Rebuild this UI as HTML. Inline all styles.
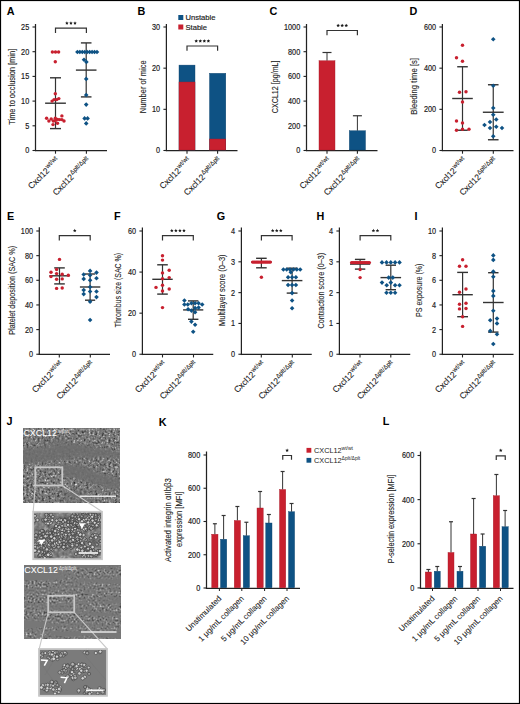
<!DOCTYPE html><html><head><meta charset="utf-8"><style>html,body{margin:0;padding:0;background:#fff;}svg{display:block;font-family:"Liberation Sans", sans-serif;}</style></head><body>
<svg width="520" height="704" viewBox="0 0 520 704">
<defs>
<filter id="t1" x="0" y="0" width="1" height="1" color-interpolation-filters="sRGB"><feTurbulence type="fractalNoise" baseFrequency="0.45" numOctaves="2" seed="3" result="n"/><feColorMatrix in="n" type="matrix" values="1 0 0 0 0  1 0 0 0 0  1 0 0 0 0  0 0 0 0 1" result="g"/><feComponentTransfer in="g" result="s"><feFuncR type="table" tableValues="0.12 0.16 0.22 0.32 0.43 0.47 0.53 0.63 0.8 0.92 0.95"/><feFuncG type="table" tableValues="0.12 0.16 0.22 0.32 0.43 0.47 0.53 0.63 0.8 0.92 0.95"/><feFuncB type="table" tableValues="0.12 0.16 0.22 0.32 0.43 0.47 0.53 0.63 0.8 0.92 0.95"/></feComponentTransfer><feTurbulence type="fractalNoise" baseFrequency="0.02 0.04" numOctaves="2" seed="11" result="m"/><feColorMatrix in="m" type="matrix" values="0 0 0 0 0  0 0 0 0 0  0 0 0 0 0  3.0 0 0 0 -0.5" result="ma"/><feComposite in="s" in2="ma" operator="in" result="sm"/><feFlood flood-color="#6c6c6c" result="b"/><feMerge><feMergeNode in="b"/><feMergeNode in="sm"/></feMerge><feGaussianBlur stdDeviation="0.4"/></filter>
<filter id="t1i" x="0" y="0" width="1" height="1" color-interpolation-filters="sRGB"><feTurbulence type="fractalNoise" baseFrequency="0.25" numOctaves="2" seed="5" result="n"/><feColorMatrix in="n" type="matrix" values="1 0 0 0 0  1 0 0 0 0  1 0 0 0 0  0 0 0 0 1" result="g"/><feComponentTransfer in="g" result="s"><feFuncR type="table" tableValues="0.28 0.32 0.37 0.42 0.46 0.49 0.53 0.6 0.7 0.8 0.85"/><feFuncG type="table" tableValues="0.28 0.32 0.37 0.42 0.46 0.49 0.53 0.6 0.7 0.8 0.85"/><feFuncB type="table" tableValues="0.28 0.32 0.37 0.42 0.46 0.49 0.53 0.6 0.7 0.8 0.85"/></feComponentTransfer><feTurbulence type="fractalNoise" baseFrequency="0.05 0.08" numOctaves="2" seed="12" result="m"/><feColorMatrix in="m" type="matrix" values="0 0 0 0 0  0 0 0 0 0  0 0 0 0 0  3.0 0 0 0 0.5" result="ma"/><feComposite in="s" in2="ma" operator="in" result="sm"/><feFlood flood-color="#777777" result="b"/><feMerge><feMergeNode in="b"/><feMergeNode in="sm"/></feMerge><feGaussianBlur stdDeviation="0.5"/></filter>
<filter id="t2" x="0" y="0" width="1" height="1" color-interpolation-filters="sRGB"><feTurbulence type="fractalNoise" baseFrequency="0.5" numOctaves="2" seed="7" result="n"/><feColorMatrix in="n" type="matrix" values="1 0 0 0 0  1 0 0 0 0  1 0 0 0 0  0 0 0 0 1" result="g"/><feComponentTransfer in="g" result="s"><feFuncR type="table" tableValues="0.15 0.2 0.26 0.34 0.44 0.48 0.53 0.64 0.82 0.95 1"/><feFuncG type="table" tableValues="0.15 0.2 0.26 0.34 0.44 0.48 0.53 0.64 0.82 0.95 1"/><feFuncB type="table" tableValues="0.15 0.2 0.26 0.34 0.44 0.48 0.53 0.64 0.82 0.95 1"/></feComponentTransfer><feTurbulence type="fractalNoise" baseFrequency="0.012 0.13" numOctaves="2" seed="21" result="m"/><feColorMatrix in="m" type="matrix" values="0 0 0 0 0  0 0 0 0 0  0 0 0 0 0  4.0 0 0 0 -1.4" result="ma"/><feComposite in="s" in2="ma" operator="in" result="sm"/><feFlood flood-color="#777777" result="b"/><feMerge><feMergeNode in="b"/><feMergeNode in="sm"/></feMerge><feGaussianBlur stdDeviation="0.45"/></filter>
<filter id="t2i" x="0" y="0" width="1" height="1" color-interpolation-filters="sRGB"><feTurbulence type="fractalNoise" baseFrequency="0.3" numOctaves="2" seed="9" result="n"/><feColorMatrix in="n" type="matrix" values="1 0 0 0 0  1 0 0 0 0  1 0 0 0 0  0 0 0 0 1" result="g"/><feComponentTransfer in="g" result="s"><feFuncR type="table" tableValues="0.12 0.16 0.22 0.32 0.44 0.5 0.58 0.74 0.92 1 1"/><feFuncG type="table" tableValues="0.12 0.16 0.22 0.32 0.44 0.5 0.58 0.74 0.92 1 1"/><feFuncB type="table" tableValues="0.12 0.16 0.22 0.32 0.44 0.5 0.58 0.74 0.92 1 1"/></feComponentTransfer><feTurbulence type="fractalNoise" baseFrequency="0.045 0.06" numOctaves="2" seed="23" result="m"/><feColorMatrix in="m" type="matrix" values="0 0 0 0 0  0 0 0 0 0  0 0 0 0 0  5.0 0 0 0 -2.0" result="ma"/><feComposite in="s" in2="ma" operator="in" result="sm"/><feFlood flood-color="#7a7a7a" result="b"/><feMerge><feMergeNode in="b"/><feMergeNode in="sm"/></feMerge><feGaussianBlur stdDeviation="0.4"/></filter>
</defs>
<rect x="0" y="0" width="520" height="704" fill="#fff"/>
<text x="6.70" y="14.80" font-size="10.8" text-anchor="start" font-weight="bold" fill="#000" >A</text>
<line x1="35.50" y1="24.00" x2="35.50" y2="151.10" stroke="#222" stroke-width="1.25"/>
<line x1="34.90" y1="150.50" x2="107.00" y2="150.50" stroke="#222" stroke-width="1.25"/>
<line x1="32.50" y1="27.00" x2="35.50" y2="27.00" stroke="#222" stroke-width="1.1"/>
<text transform="translate(29.20,29.95) scale(0.86,1)" font-size="8.5" text-anchor="end" fill="#1c1c1c" stroke="#1c1c1c" stroke-width="0.18">25</text>
<line x1="32.50" y1="51.70" x2="35.50" y2="51.70" stroke="#222" stroke-width="1.1"/>
<text transform="translate(29.20,54.65) scale(0.86,1)" font-size="8.5" text-anchor="end" fill="#1c1c1c" stroke="#1c1c1c" stroke-width="0.18">20</text>
<line x1="32.50" y1="76.40" x2="35.50" y2="76.40" stroke="#222" stroke-width="1.1"/>
<text transform="translate(29.20,79.35) scale(0.86,1)" font-size="8.5" text-anchor="end" fill="#1c1c1c" stroke="#1c1c1c" stroke-width="0.18">15</text>
<line x1="32.50" y1="101.10" x2="35.50" y2="101.10" stroke="#222" stroke-width="1.1"/>
<text transform="translate(29.20,104.05) scale(0.86,1)" font-size="8.5" text-anchor="end" fill="#1c1c1c" stroke="#1c1c1c" stroke-width="0.18">10</text>
<line x1="32.50" y1="125.80" x2="35.50" y2="125.80" stroke="#222" stroke-width="1.1"/>
<text transform="translate(29.20,128.75) scale(0.86,1)" font-size="8.5" text-anchor="end" fill="#1c1c1c" stroke="#1c1c1c" stroke-width="0.18">5</text>
<line x1="32.50" y1="150.50" x2="35.50" y2="150.50" stroke="#222" stroke-width="1.1"/>
<text transform="translate(29.20,153.45) scale(0.86,1)" font-size="8.5" text-anchor="end" fill="#1c1c1c" stroke="#1c1c1c" stroke-width="0.18">0</text>
<text transform="translate(14.90,86.80) rotate(-90)" font-size="8.4" text-anchor="middle" fill="#1c1c1c" stroke="#1c1c1c" stroke-width="0.1" textLength="76.0" lengthAdjust="spacingAndGlyphs">Time to occlusion [min]</text>
<path d="M55.50 33.00V28.10H86.40V33.00" fill="none" stroke="#333" stroke-width="1.2"/>
<polygon points="66.90,21.35 67.43,22.47 68.66,22.63 67.76,23.48 67.99,24.70 66.90,24.10 65.81,24.70 66.04,23.48 65.14,22.63 66.37,22.47" fill="#1a1a1a"/>
<polygon points="70.95,21.35 71.48,22.47 72.71,22.63 71.81,23.48 72.04,24.70 70.95,24.10 69.86,24.70 70.09,23.48 69.19,22.63 70.42,22.47" fill="#1a1a1a"/>
<polygon points="75.00,21.35 75.53,22.47 76.76,22.63 75.86,23.48 76.09,24.70 75.00,24.10 73.91,24.70 74.14,23.48 73.24,22.63 74.47,22.47" fill="#1a1a1a"/>
<line x1="55.50" y1="77.80" x2="55.50" y2="128.60" stroke="#333" stroke-width="1.2"/>
<line x1="45.10" y1="103.20" x2="65.90" y2="103.20" stroke="#333" stroke-width="1.4"/>
<line x1="50.00" y1="77.80" x2="61.00" y2="77.80" stroke="#333" stroke-width="1.4"/>
<line x1="50.00" y1="128.60" x2="61.00" y2="128.60" stroke="#333" stroke-width="1.4"/>
<line x1="86.20" y1="42.90" x2="86.20" y2="96.90" stroke="#333" stroke-width="1.2"/>
<line x1="75.90" y1="70.10" x2="96.50" y2="70.10" stroke="#333" stroke-width="1.4"/>
<line x1="80.90" y1="42.90" x2="91.50" y2="42.90" stroke="#333" stroke-width="1.4"/>
<line x1="80.90" y1="96.90" x2="91.50" y2="96.90" stroke="#333" stroke-width="1.4"/>
<text transform="translate(60.10,161.10) rotate(-45) scale(0.97,1)" font-size="8.7" text-anchor="end" fill="#1c1c1c" stroke="#1c1c1c" stroke-width="0.1">Cxcl12<tspan font-size="6.4" dx="0.4" dy="-3.4">wt/wt</tspan></text>
<line x1="55.50" y1="150.50" x2="55.50" y2="153.70" stroke="#222" stroke-width="1.1"/>
<text transform="translate(91.00,161.10) rotate(-45) scale(0.97,1)" font-size="8.7" text-anchor="end" fill="#1c1c1c" stroke="#1c1c1c" stroke-width="0.1">Cxcl12<tspan font-size="6.4" dx="0.4" dy="-3.4">Δplt/Δplt</tspan></text>
<line x1="86.40" y1="150.50" x2="86.40" y2="153.70" stroke="#222" stroke-width="1.1"/>
<text x="137.50" y="14.60" font-size="10.8" text-anchor="start" font-weight="bold" fill="#000" >B</text>
<line x1="166.40" y1="24.00" x2="166.40" y2="151.10" stroke="#222" stroke-width="1.25"/>
<line x1="165.80" y1="150.50" x2="237.50" y2="150.50" stroke="#222" stroke-width="1.25"/>
<line x1="163.40" y1="27.00" x2="166.40" y2="27.00" stroke="#222" stroke-width="1.1"/>
<text transform="translate(160.10,29.95) scale(0.86,1)" font-size="8.5" text-anchor="end" fill="#1c1c1c" stroke="#1c1c1c" stroke-width="0.18">30</text>
<line x1="163.40" y1="68.17" x2="166.40" y2="68.17" stroke="#222" stroke-width="1.1"/>
<text transform="translate(160.10,71.12) scale(0.86,1)" font-size="8.5" text-anchor="end" fill="#1c1c1c" stroke="#1c1c1c" stroke-width="0.18">20</text>
<line x1="163.40" y1="109.33" x2="166.40" y2="109.33" stroke="#222" stroke-width="1.1"/>
<text transform="translate(160.10,112.28) scale(0.86,1)" font-size="8.5" text-anchor="end" fill="#1c1c1c" stroke="#1c1c1c" stroke-width="0.18">10</text>
<line x1="163.40" y1="150.50" x2="166.40" y2="150.50" stroke="#222" stroke-width="1.1"/>
<text transform="translate(160.10,153.45) scale(0.86,1)" font-size="8.5" text-anchor="end" fill="#1c1c1c" stroke="#1c1c1c" stroke-width="0.18">0</text>
<text transform="translate(145.50,86.80) rotate(-90)" font-size="8.4" text-anchor="middle" fill="#1c1c1c" stroke="#1c1c1c" stroke-width="0.1" textLength="52.8" lengthAdjust="spacingAndGlyphs">Number of mice</text>
<rect x="179.00" y="65.10" width="16.00" height="84.90" fill="#0e5284" stroke="#0a416b" stroke-width="0.4"/>
<rect x="179.00" y="82.00" width="16.00" height="68.00" fill="#c8202f" stroke="#a51b29" stroke-width="0.4"/>
<rect x="209.50" y="73.30" width="16.30" height="76.70" fill="#0e5284" stroke="#0a416b" stroke-width="0.4"/>
<rect x="209.50" y="139.00" width="16.30" height="11.00" fill="#c8202f" stroke="#a51b29" stroke-width="0.4"/>
<path d="M187.00 50.80V46.00H217.60V50.80" fill="none" stroke="#333" stroke-width="1.2"/>
<polygon points="196.23,39.25 196.75,40.37 197.98,40.53 197.08,41.38 197.31,42.60 196.23,42.00 195.14,42.60 195.37,41.38 194.47,40.53 195.70,40.37" fill="#1a1a1a"/>
<polygon points="200.28,39.25 200.80,40.37 202.03,40.53 201.13,41.38 201.36,42.60 200.28,42.00 199.19,42.60 199.42,41.38 198.52,40.53 199.75,40.37" fill="#1a1a1a"/>
<polygon points="204.33,39.25 204.85,40.37 206.08,40.53 205.18,41.38 205.41,42.60 204.33,42.00 203.24,42.60 203.47,41.38 202.57,40.53 203.80,40.37" fill="#1a1a1a"/>
<polygon points="208.38,39.25 208.90,40.37 210.13,40.53 209.23,41.38 209.46,42.60 208.38,42.00 207.29,42.60 207.52,41.38 206.62,40.53 207.85,40.37" fill="#1a1a1a"/>
<rect x="178.3" y="15" width="5" height="5" fill="#0e5284"/>
<rect x="178.3" y="24.5" width="5" height="5" fill="#c8202f"/>
<text x="185.50" y="20.40" font-size="7.6" text-anchor="start" font-weight="normal" fill="#1c1c1c" stroke="#1c1c1c" stroke-width="0.18" >Unstable</text>
<text x="185.50" y="29.80" font-size="7.6" text-anchor="start" font-weight="normal" fill="#1c1c1c" stroke="#1c1c1c" stroke-width="0.18" >Stable</text>
<text transform="translate(191.60,161.10) rotate(-45) scale(0.97,1)" font-size="8.7" text-anchor="end" fill="#1c1c1c" stroke="#1c1c1c" stroke-width="0.1">Cxcl12<tspan font-size="6.4" dx="0.4" dy="-3.4">wt/wt</tspan></text>
<line x1="187.00" y1="150.50" x2="187.00" y2="153.70" stroke="#222" stroke-width="1.1"/>
<text transform="translate(222.20,161.10) rotate(-45) scale(0.97,1)" font-size="8.7" text-anchor="end" fill="#1c1c1c" stroke="#1c1c1c" stroke-width="0.1">Cxcl12<tspan font-size="6.4" dx="0.4" dy="-3.4">Δplt/Δplt</tspan></text>
<line x1="217.60" y1="150.50" x2="217.60" y2="153.70" stroke="#222" stroke-width="1.1"/>
<text x="269.50" y="14.60" font-size="10.8" text-anchor="start" font-weight="bold" fill="#000" >C</text>
<line x1="306.50" y1="24.00" x2="306.50" y2="151.10" stroke="#222" stroke-width="1.25"/>
<line x1="305.90" y1="150.50" x2="377.50" y2="150.50" stroke="#222" stroke-width="1.25"/>
<line x1="303.50" y1="27.00" x2="306.50" y2="27.00" stroke="#222" stroke-width="1.1"/>
<text transform="translate(300.20,29.95) scale(0.86,1)" font-size="8.5" text-anchor="end" fill="#1c1c1c" stroke="#1c1c1c" stroke-width="0.18">1000</text>
<line x1="303.50" y1="51.70" x2="306.50" y2="51.70" stroke="#222" stroke-width="1.1"/>
<text transform="translate(300.20,54.65) scale(0.86,1)" font-size="8.5" text-anchor="end" fill="#1c1c1c" stroke="#1c1c1c" stroke-width="0.18">800</text>
<line x1="303.50" y1="76.40" x2="306.50" y2="76.40" stroke="#222" stroke-width="1.1"/>
<text transform="translate(300.20,79.35) scale(0.86,1)" font-size="8.5" text-anchor="end" fill="#1c1c1c" stroke="#1c1c1c" stroke-width="0.18">600</text>
<line x1="303.50" y1="101.10" x2="306.50" y2="101.10" stroke="#222" stroke-width="1.1"/>
<text transform="translate(300.20,104.05) scale(0.86,1)" font-size="8.5" text-anchor="end" fill="#1c1c1c" stroke="#1c1c1c" stroke-width="0.18">400</text>
<line x1="303.50" y1="125.80" x2="306.50" y2="125.80" stroke="#222" stroke-width="1.1"/>
<text transform="translate(300.20,128.75) scale(0.86,1)" font-size="8.5" text-anchor="end" fill="#1c1c1c" stroke="#1c1c1c" stroke-width="0.18">200</text>
<line x1="303.50" y1="150.50" x2="306.50" y2="150.50" stroke="#222" stroke-width="1.1"/>
<text transform="translate(300.20,153.45) scale(0.86,1)" font-size="8.5" text-anchor="end" fill="#1c1c1c" stroke="#1c1c1c" stroke-width="0.18">0</text>
<text transform="translate(277.50,86.80) rotate(-90)" font-size="8.4" text-anchor="middle" fill="#1c1c1c" stroke="#1c1c1c" stroke-width="0.1" textLength="52.7" lengthAdjust="spacingAndGlyphs">CXCL12 [pg/mL]</text>
<line x1="327.00" y1="60.75" x2="327.00" y2="52.50" stroke="#333" stroke-width="1.0"/>
<line x1="322.50" y1="52.50" x2="331.50" y2="52.50" stroke="#333" stroke-width="1.2"/>
<rect x="319.00" y="60.75" width="16.00" height="89.25" fill="#c8202f" stroke="#a51b29" stroke-width="0.4"/>
<line x1="357.40" y1="130.75" x2="357.40" y2="115.75" stroke="#333" stroke-width="1.0"/>
<line x1="352.90" y1="115.75" x2="361.90" y2="115.75" stroke="#333" stroke-width="1.2"/>
<rect x="349.30" y="130.75" width="16.20" height="19.25" fill="#0e5284" stroke="#0a416b" stroke-width="0.4"/>
<path d="M327.00 35.30V30.50H357.40V35.30" fill="none" stroke="#333" stroke-width="1.2"/>
<polygon points="338.15,23.75 338.68,24.87 339.91,25.03 339.01,25.88 339.24,27.10 338.15,26.50 337.06,27.10 337.29,25.88 336.39,25.03 337.62,24.87" fill="#1a1a1a"/>
<polygon points="342.20,23.75 342.73,24.87 343.96,25.03 343.06,25.88 343.29,27.10 342.20,26.50 341.11,27.10 341.34,25.88 340.44,25.03 341.67,24.87" fill="#1a1a1a"/>
<polygon points="346.25,23.75 346.78,24.87 348.01,25.03 347.11,25.88 347.34,27.10 346.25,26.50 345.16,27.10 345.39,25.88 344.49,25.03 345.72,24.87" fill="#1a1a1a"/>
<text transform="translate(331.60,161.10) rotate(-45) scale(0.97,1)" font-size="8.7" text-anchor="end" fill="#1c1c1c" stroke="#1c1c1c" stroke-width="0.1">Cxcl12<tspan font-size="6.4" dx="0.4" dy="-3.4">wt/wt</tspan></text>
<line x1="327.00" y1="150.50" x2="327.00" y2="153.70" stroke="#222" stroke-width="1.1"/>
<text transform="translate(362.00,161.10) rotate(-45) scale(0.97,1)" font-size="8.7" text-anchor="end" fill="#1c1c1c" stroke="#1c1c1c" stroke-width="0.1">Cxcl12<tspan font-size="6.4" dx="0.4" dy="-3.4">Δplt/Δplt</tspan></text>
<line x1="357.40" y1="150.50" x2="357.40" y2="153.70" stroke="#222" stroke-width="1.1"/>
<text x="409.50" y="14.60" font-size="10.8" text-anchor="start" font-weight="bold" fill="#000" >D</text>
<line x1="442.40" y1="24.00" x2="442.40" y2="151.10" stroke="#222" stroke-width="1.25"/>
<line x1="441.80" y1="150.50" x2="513.50" y2="150.50" stroke="#222" stroke-width="1.25"/>
<line x1="439.40" y1="27.00" x2="442.40" y2="27.00" stroke="#222" stroke-width="1.1"/>
<text transform="translate(436.10,29.95) scale(0.86,1)" font-size="8.5" text-anchor="end" fill="#1c1c1c" stroke="#1c1c1c" stroke-width="0.18">600</text>
<line x1="439.40" y1="68.17" x2="442.40" y2="68.17" stroke="#222" stroke-width="1.1"/>
<text transform="translate(436.10,71.12) scale(0.86,1)" font-size="8.5" text-anchor="end" fill="#1c1c1c" stroke="#1c1c1c" stroke-width="0.18">400</text>
<line x1="439.40" y1="109.33" x2="442.40" y2="109.33" stroke="#222" stroke-width="1.1"/>
<text transform="translate(436.10,112.28) scale(0.86,1)" font-size="8.5" text-anchor="end" fill="#1c1c1c" stroke="#1c1c1c" stroke-width="0.18">200</text>
<line x1="439.40" y1="150.50" x2="442.40" y2="150.50" stroke="#222" stroke-width="1.1"/>
<text transform="translate(436.10,153.45) scale(0.86,1)" font-size="8.5" text-anchor="end" fill="#1c1c1c" stroke="#1c1c1c" stroke-width="0.18">0</text>
<text transform="translate(416.80,86.40) rotate(-90)" font-size="8.4" text-anchor="middle" fill="#1c1c1c" stroke="#1c1c1c" stroke-width="0.1" textLength="56.8" lengthAdjust="spacingAndGlyphs">Bleeding time [s]</text>
<line x1="462.50" y1="66.75" x2="462.50" y2="130.25" stroke="#333" stroke-width="1.2"/>
<line x1="452.20" y1="98.50" x2="472.80" y2="98.50" stroke="#333" stroke-width="1.4"/>
<line x1="457.20" y1="66.75" x2="467.80" y2="66.75" stroke="#333" stroke-width="1.4"/>
<line x1="457.20" y1="130.25" x2="467.80" y2="130.25" stroke="#333" stroke-width="1.4"/>
<line x1="493.25" y1="84.75" x2="493.25" y2="139.75" stroke="#333" stroke-width="1.2"/>
<line x1="482.85" y1="112.25" x2="503.65" y2="112.25" stroke="#333" stroke-width="1.4"/>
<line x1="487.95" y1="84.75" x2="498.55" y2="84.75" stroke="#333" stroke-width="1.4"/>
<line x1="487.95" y1="139.75" x2="498.55" y2="139.75" stroke="#333" stroke-width="1.4"/>
<text transform="translate(467.10,161.10) rotate(-45) scale(0.97,1)" font-size="8.7" text-anchor="end" fill="#1c1c1c" stroke="#1c1c1c" stroke-width="0.1">Cxcl12<tspan font-size="6.4" dx="0.4" dy="-3.4">wt/wt</tspan></text>
<line x1="462.50" y1="150.50" x2="462.50" y2="153.70" stroke="#222" stroke-width="1.1"/>
<text transform="translate(497.90,161.10) rotate(-45) scale(0.97,1)" font-size="8.7" text-anchor="end" fill="#1c1c1c" stroke="#1c1c1c" stroke-width="0.1">Cxcl12<tspan font-size="6.4" dx="0.4" dy="-3.4">Δplt/Δplt</tspan></text>
<line x1="493.30" y1="150.50" x2="493.30" y2="153.70" stroke="#222" stroke-width="1.1"/>
<text x="7.00" y="220.30" font-size="10.8" text-anchor="start" font-weight="bold" fill="#000" >E</text>
<line x1="39.30" y1="227.30" x2="39.30" y2="355.05" stroke="#222" stroke-width="1.25"/>
<line x1="38.70" y1="354.45" x2="110.00" y2="354.45" stroke="#222" stroke-width="1.25"/>
<line x1="36.30" y1="231.00" x2="39.30" y2="231.00" stroke="#222" stroke-width="1.1"/>
<text transform="translate(33.00,233.95) scale(0.86,1)" font-size="8.5" text-anchor="end" fill="#1c1c1c" stroke="#1c1c1c" stroke-width="0.18">100</text>
<line x1="36.30" y1="255.65" x2="39.30" y2="255.65" stroke="#222" stroke-width="1.1"/>
<text transform="translate(33.00,258.60) scale(0.86,1)" font-size="8.5" text-anchor="end" fill="#1c1c1c" stroke="#1c1c1c" stroke-width="0.18">80</text>
<line x1="36.30" y1="280.30" x2="39.30" y2="280.30" stroke="#222" stroke-width="1.1"/>
<text transform="translate(33.00,283.25) scale(0.86,1)" font-size="8.5" text-anchor="end" fill="#1c1c1c" stroke="#1c1c1c" stroke-width="0.18">60</text>
<line x1="36.30" y1="304.95" x2="39.30" y2="304.95" stroke="#222" stroke-width="1.1"/>
<text transform="translate(33.00,307.90) scale(0.86,1)" font-size="8.5" text-anchor="end" fill="#1c1c1c" stroke="#1c1c1c" stroke-width="0.18">40</text>
<line x1="36.30" y1="329.60" x2="39.30" y2="329.60" stroke="#222" stroke-width="1.1"/>
<text transform="translate(33.00,332.55) scale(0.86,1)" font-size="8.5" text-anchor="end" fill="#1c1c1c" stroke="#1c1c1c" stroke-width="0.18">20</text>
<line x1="36.30" y1="354.25" x2="39.30" y2="354.25" stroke="#222" stroke-width="1.1"/>
<text transform="translate(33.00,357.20) scale(0.86,1)" font-size="8.5" text-anchor="end" fill="#1c1c1c" stroke="#1c1c1c" stroke-width="0.18">0</text>
<text transform="translate(14.60,290.30) rotate(-90)" font-size="8.4" text-anchor="middle" fill="#1c1c1c" stroke="#1c1c1c" stroke-width="0.1" textLength="88.8" lengthAdjust="spacingAndGlyphs">Platelet deposition (SAC %)</text>
<path d="M59.30 240.60V235.60H90.20V240.60" fill="none" stroke="#333" stroke-width="1.2"/>
<polygon points="74.75,228.85 75.28,229.97 76.51,230.13 75.61,230.98 75.84,232.20 74.75,231.60 73.66,232.20 73.89,230.98 72.99,230.13 74.22,229.97" fill="#1a1a1a"/>
<line x1="59.50" y1="267.90" x2="59.50" y2="283.90" stroke="#333" stroke-width="1.2"/>
<line x1="49.30" y1="275.80" x2="69.70" y2="275.80" stroke="#333" stroke-width="1.4"/>
<line x1="54.20" y1="267.90" x2="64.80" y2="267.90" stroke="#333" stroke-width="1.4"/>
<line x1="54.20" y1="283.90" x2="64.80" y2="283.90" stroke="#333" stroke-width="1.4"/>
<line x1="90.10" y1="274.00" x2="90.10" y2="300.20" stroke="#333" stroke-width="1.2"/>
<line x1="79.90" y1="287.00" x2="100.30" y2="287.00" stroke="#333" stroke-width="1.4"/>
<line x1="85.00" y1="274.00" x2="95.20" y2="274.00" stroke="#333" stroke-width="1.4"/>
<line x1="85.00" y1="300.20" x2="95.20" y2="300.20" stroke="#333" stroke-width="1.4"/>
<text transform="translate(63.90,364.85) rotate(-45) scale(0.97,1)" font-size="8.7" text-anchor="end" fill="#1c1c1c" stroke="#1c1c1c" stroke-width="0.1">Cxcl12<tspan font-size="6.4" dx="0.4" dy="-3.4">wt/wt</tspan></text>
<line x1="59.30" y1="354.25" x2="59.30" y2="357.45" stroke="#222" stroke-width="1.1"/>
<text transform="translate(94.90,364.85) rotate(-45) scale(0.97,1)" font-size="8.7" text-anchor="end" fill="#1c1c1c" stroke="#1c1c1c" stroke-width="0.1">Cxcl12<tspan font-size="6.4" dx="0.4" dy="-3.4">Δplt/Δplt</tspan></text>
<line x1="90.30" y1="354.25" x2="90.30" y2="357.45" stroke="#222" stroke-width="1.1"/>
<text x="114.00" y="220.30" font-size="10.8" text-anchor="start" font-weight="bold" fill="#000" >F</text>
<line x1="142.40" y1="227.50" x2="142.40" y2="355.05" stroke="#222" stroke-width="1.25"/>
<line x1="141.80" y1="354.45" x2="213.25" y2="354.45" stroke="#222" stroke-width="1.25"/>
<line x1="139.40" y1="231.00" x2="142.40" y2="231.00" stroke="#222" stroke-width="1.1"/>
<text transform="translate(136.10,233.95) scale(0.86,1)" font-size="8.5" text-anchor="end" fill="#1c1c1c" stroke="#1c1c1c" stroke-width="0.18">60</text>
<line x1="139.40" y1="272.08" x2="142.40" y2="272.08" stroke="#222" stroke-width="1.1"/>
<text transform="translate(136.10,275.03) scale(0.86,1)" font-size="8.5" text-anchor="end" fill="#1c1c1c" stroke="#1c1c1c" stroke-width="0.18">40</text>
<line x1="139.40" y1="313.17" x2="142.40" y2="313.17" stroke="#222" stroke-width="1.1"/>
<text transform="translate(136.10,316.12) scale(0.86,1)" font-size="8.5" text-anchor="end" fill="#1c1c1c" stroke="#1c1c1c" stroke-width="0.18">20</text>
<line x1="139.40" y1="354.25" x2="142.40" y2="354.25" stroke="#222" stroke-width="1.1"/>
<text transform="translate(136.10,357.20) scale(0.86,1)" font-size="8.5" text-anchor="end" fill="#1c1c1c" stroke="#1c1c1c" stroke-width="0.18">0</text>
<text transform="translate(121.20,290.20) rotate(-90)" font-size="8.4" text-anchor="middle" fill="#1c1c1c" stroke="#1c1c1c" stroke-width="0.1" textLength="74.3" lengthAdjust="spacingAndGlyphs">Thrombus size (SAC %)</text>
<path d="M162.50 240.60V235.60H193.30V240.60" fill="none" stroke="#333" stroke-width="1.2"/>
<polygon points="171.83,228.85 172.35,229.97 173.58,230.13 172.68,230.98 172.91,232.20 171.83,231.60 170.74,232.20 170.97,230.98 170.07,230.13 171.30,229.97" fill="#1a1a1a"/>
<polygon points="175.88,228.85 176.40,229.97 177.63,230.13 176.73,230.98 176.96,232.20 175.88,231.60 174.79,232.20 175.02,230.98 174.12,230.13 175.35,229.97" fill="#1a1a1a"/>
<polygon points="179.93,228.85 180.45,229.97 181.68,230.13 180.78,230.98 181.01,232.20 179.93,231.60 178.84,232.20 179.07,230.98 178.17,230.13 179.40,229.97" fill="#1a1a1a"/>
<polygon points="183.97,228.85 184.50,229.97 185.73,230.13 184.83,230.98 185.06,232.20 183.97,231.60 182.89,232.20 183.12,230.98 182.22,230.13 183.45,229.97" fill="#1a1a1a"/>
<line x1="162.50" y1="264.80" x2="162.50" y2="294.10" stroke="#333" stroke-width="1.2"/>
<line x1="152.30" y1="279.30" x2="172.70" y2="279.30" stroke="#333" stroke-width="1.4"/>
<line x1="157.20" y1="264.80" x2="167.80" y2="264.80" stroke="#333" stroke-width="1.4"/>
<line x1="157.20" y1="294.10" x2="167.80" y2="294.10" stroke="#333" stroke-width="1.4"/>
<line x1="193.20" y1="300.90" x2="193.20" y2="319.30" stroke="#333" stroke-width="1.2"/>
<line x1="183.10" y1="309.90" x2="203.30" y2="309.90" stroke="#333" stroke-width="1.4"/>
<line x1="188.00" y1="300.90" x2="198.40" y2="300.90" stroke="#333" stroke-width="1.4"/>
<line x1="188.00" y1="319.30" x2="198.40" y2="319.30" stroke="#333" stroke-width="1.4"/>
<text transform="translate(167.10,364.85) rotate(-45) scale(0.97,1)" font-size="8.7" text-anchor="end" fill="#1c1c1c" stroke="#1c1c1c" stroke-width="0.1">Cxcl12<tspan font-size="6.4" dx="0.4" dy="-3.4">wt/wt</tspan></text>
<line x1="162.50" y1="354.25" x2="162.50" y2="357.45" stroke="#222" stroke-width="1.1"/>
<text transform="translate(198.10,364.85) rotate(-45) scale(0.97,1)" font-size="8.7" text-anchor="end" fill="#1c1c1c" stroke="#1c1c1c" stroke-width="0.1">Cxcl12<tspan font-size="6.4" dx="0.4" dy="-3.4">Δplt/Δplt</tspan></text>
<line x1="193.50" y1="354.25" x2="193.50" y2="357.45" stroke="#222" stroke-width="1.1"/>
<text x="216.70" y="220.30" font-size="10.8" text-anchor="start" font-weight="bold" fill="#000" >G</text>
<line x1="241.40" y1="227.50" x2="241.40" y2="355.05" stroke="#222" stroke-width="1.25"/>
<line x1="240.80" y1="354.45" x2="311.75" y2="354.45" stroke="#222" stroke-width="1.25"/>
<line x1="238.40" y1="231.00" x2="241.40" y2="231.00" stroke="#222" stroke-width="1.1"/>
<text transform="translate(235.10,233.95) scale(0.86,1)" font-size="8.5" text-anchor="end" fill="#1c1c1c" stroke="#1c1c1c" stroke-width="0.18">4</text>
<line x1="238.40" y1="261.81" x2="241.40" y2="261.81" stroke="#222" stroke-width="1.1"/>
<text transform="translate(235.10,264.76) scale(0.86,1)" font-size="8.5" text-anchor="end" fill="#1c1c1c" stroke="#1c1c1c" stroke-width="0.18">3</text>
<line x1="238.40" y1="292.62" x2="241.40" y2="292.62" stroke="#222" stroke-width="1.1"/>
<text transform="translate(235.10,295.57) scale(0.86,1)" font-size="8.5" text-anchor="end" fill="#1c1c1c" stroke="#1c1c1c" stroke-width="0.18">2</text>
<line x1="238.40" y1="323.44" x2="241.40" y2="323.44" stroke="#222" stroke-width="1.1"/>
<text transform="translate(235.10,326.39) scale(0.86,1)" font-size="8.5" text-anchor="end" fill="#1c1c1c" stroke="#1c1c1c" stroke-width="0.18">1</text>
<line x1="238.40" y1="354.25" x2="241.40" y2="354.25" stroke="#222" stroke-width="1.1"/>
<text transform="translate(235.10,357.20) scale(0.86,1)" font-size="8.5" text-anchor="end" fill="#1c1c1c" stroke="#1c1c1c" stroke-width="0.18">0</text>
<text transform="translate(224.60,290.20) rotate(-90)" font-size="8.4" text-anchor="middle" fill="#1c1c1c" stroke="#1c1c1c" stroke-width="0.1" textLength="71.4" lengthAdjust="spacingAndGlyphs">Multilayer score (0–3)</text>
<path d="M261.40 240.60V235.60H292.10V240.60" fill="none" stroke="#333" stroke-width="1.2"/>
<polygon points="272.70,228.85 273.23,229.97 274.46,230.13 273.56,230.98 273.79,232.20 272.70,231.60 271.61,232.20 271.84,230.98 270.94,230.13 272.17,229.97" fill="#1a1a1a"/>
<polygon points="276.75,228.85 277.28,229.97 278.51,230.13 277.61,230.98 277.84,232.20 276.75,231.60 275.66,232.20 275.89,230.98 274.99,230.13 276.22,229.97" fill="#1a1a1a"/>
<polygon points="280.80,228.85 281.33,229.97 282.56,230.13 281.66,230.98 281.89,232.20 280.80,231.60 279.71,232.20 279.94,230.98 279.04,230.13 280.27,229.97" fill="#1a1a1a"/>
<line x1="261.40" y1="258.30" x2="261.40" y2="267.80" stroke="#333" stroke-width="1.2"/>
<line x1="251.20" y1="262.10" x2="271.60" y2="262.10" stroke="#333" stroke-width="1.4"/>
<line x1="256.10" y1="258.30" x2="266.70" y2="258.30" stroke="#333" stroke-width="1.4"/>
<line x1="256.10" y1="267.80" x2="266.70" y2="267.80" stroke="#333" stroke-width="1.4"/>
<line x1="292.10" y1="268.20" x2="292.10" y2="293.10" stroke="#333" stroke-width="1.2"/>
<line x1="281.80" y1="280.60" x2="302.40" y2="280.60" stroke="#333" stroke-width="1.4"/>
<line x1="286.70" y1="268.20" x2="297.50" y2="268.20" stroke="#333" stroke-width="1.4"/>
<line x1="286.70" y1="293.10" x2="297.50" y2="293.10" stroke="#333" stroke-width="1.4"/>
<text transform="translate(265.90,364.85) rotate(-45) scale(0.97,1)" font-size="8.7" text-anchor="end" fill="#1c1c1c" stroke="#1c1c1c" stroke-width="0.1">Cxcl12<tspan font-size="6.4" dx="0.4" dy="-3.4">wt/wt</tspan></text>
<line x1="261.30" y1="354.25" x2="261.30" y2="357.45" stroke="#222" stroke-width="1.1"/>
<text transform="translate(296.90,364.85) rotate(-45) scale(0.97,1)" font-size="8.7" text-anchor="end" fill="#1c1c1c" stroke="#1c1c1c" stroke-width="0.1">Cxcl12<tspan font-size="6.4" dx="0.4" dy="-3.4">Δplt/Δplt</tspan></text>
<line x1="292.30" y1="354.25" x2="292.30" y2="357.45" stroke="#222" stroke-width="1.1"/>
<text x="316.50" y="220.30" font-size="10.8" text-anchor="start" font-weight="bold" fill="#000" >H</text>
<line x1="339.40" y1="227.50" x2="339.40" y2="355.05" stroke="#222" stroke-width="1.25"/>
<line x1="338.80" y1="354.45" x2="410.25" y2="354.45" stroke="#222" stroke-width="1.25"/>
<line x1="336.40" y1="231.00" x2="339.40" y2="231.00" stroke="#222" stroke-width="1.1"/>
<text transform="translate(333.10,233.95) scale(0.86,1)" font-size="8.5" text-anchor="end" fill="#1c1c1c" stroke="#1c1c1c" stroke-width="0.18">4</text>
<line x1="336.40" y1="261.81" x2="339.40" y2="261.81" stroke="#222" stroke-width="1.1"/>
<text transform="translate(333.10,264.76) scale(0.86,1)" font-size="8.5" text-anchor="end" fill="#1c1c1c" stroke="#1c1c1c" stroke-width="0.18">3</text>
<line x1="336.40" y1="292.62" x2="339.40" y2="292.62" stroke="#222" stroke-width="1.1"/>
<text transform="translate(333.10,295.57) scale(0.86,1)" font-size="8.5" text-anchor="end" fill="#1c1c1c" stroke="#1c1c1c" stroke-width="0.18">2</text>
<line x1="336.40" y1="323.44" x2="339.40" y2="323.44" stroke="#222" stroke-width="1.1"/>
<text transform="translate(333.10,326.39) scale(0.86,1)" font-size="8.5" text-anchor="end" fill="#1c1c1c" stroke="#1c1c1c" stroke-width="0.18">1</text>
<line x1="336.40" y1="354.25" x2="339.40" y2="354.25" stroke="#222" stroke-width="1.1"/>
<text transform="translate(333.10,357.20) scale(0.86,1)" font-size="8.5" text-anchor="end" fill="#1c1c1c" stroke="#1c1c1c" stroke-width="0.18">0</text>
<text transform="translate(323.70,290.60) rotate(-90)" font-size="8.4" text-anchor="middle" fill="#1c1c1c" stroke="#1c1c1c" stroke-width="0.1" textLength="75.6" lengthAdjust="spacingAndGlyphs">Contraction score (0–3)</text>
<path d="M360.10 240.60V235.60H390.80V240.60" fill="none" stroke="#333" stroke-width="1.2"/>
<polygon points="373.43,228.85 373.95,229.97 375.18,230.13 374.28,230.98 374.51,232.20 373.43,231.60 372.34,232.20 372.57,230.98 371.67,230.13 372.90,229.97" fill="#1a1a1a"/>
<polygon points="377.48,228.85 378.00,229.97 379.23,230.13 378.33,230.98 378.56,232.20 377.48,231.60 376.39,232.20 376.62,230.98 375.72,230.13 376.95,229.97" fill="#1a1a1a"/>
<line x1="360.10" y1="259.40" x2="360.10" y2="269.10" stroke="#333" stroke-width="1.2"/>
<line x1="350.00" y1="264.10" x2="370.20" y2="264.10" stroke="#333" stroke-width="1.4"/>
<line x1="354.90" y1="259.40" x2="365.30" y2="259.40" stroke="#333" stroke-width="1.4"/>
<line x1="354.90" y1="269.10" x2="365.30" y2="269.10" stroke="#333" stroke-width="1.4"/>
<line x1="390.80" y1="265.20" x2="390.80" y2="289.70" stroke="#333" stroke-width="1.2"/>
<line x1="380.50" y1="277.60" x2="401.10" y2="277.60" stroke="#333" stroke-width="1.4"/>
<line x1="385.60" y1="265.20" x2="396.00" y2="265.20" stroke="#333" stroke-width="1.4"/>
<line x1="385.60" y1="289.70" x2="396.00" y2="289.70" stroke="#333" stroke-width="1.4"/>
<text transform="translate(364.60,364.85) rotate(-45) scale(0.97,1)" font-size="8.7" text-anchor="end" fill="#1c1c1c" stroke="#1c1c1c" stroke-width="0.1">Cxcl12<tspan font-size="6.4" dx="0.4" dy="-3.4">wt/wt</tspan></text>
<line x1="360.00" y1="354.25" x2="360.00" y2="357.45" stroke="#222" stroke-width="1.1"/>
<text transform="translate(395.40,364.85) rotate(-45) scale(0.97,1)" font-size="8.7" text-anchor="end" fill="#1c1c1c" stroke="#1c1c1c" stroke-width="0.1">Cxcl12<tspan font-size="6.4" dx="0.4" dy="-3.4">Δplt/Δplt</tspan></text>
<line x1="390.80" y1="354.25" x2="390.80" y2="357.45" stroke="#222" stroke-width="1.1"/>
<text x="414.50" y="220.30" font-size="10.8" text-anchor="start" font-weight="bold" fill="#000" >I</text>
<line x1="442.40" y1="227.50" x2="442.40" y2="355.05" stroke="#222" stroke-width="1.25"/>
<line x1="441.80" y1="354.45" x2="513.50" y2="354.45" stroke="#222" stroke-width="1.25"/>
<line x1="439.40" y1="231.00" x2="442.40" y2="231.00" stroke="#222" stroke-width="1.1"/>
<text transform="translate(436.10,233.95) scale(0.86,1)" font-size="8.5" text-anchor="end" fill="#1c1c1c" stroke="#1c1c1c" stroke-width="0.18">10</text>
<line x1="439.40" y1="255.65" x2="442.40" y2="255.65" stroke="#222" stroke-width="1.1"/>
<text transform="translate(436.10,258.60) scale(0.86,1)" font-size="8.5" text-anchor="end" fill="#1c1c1c" stroke="#1c1c1c" stroke-width="0.18">8</text>
<line x1="439.40" y1="280.30" x2="442.40" y2="280.30" stroke="#222" stroke-width="1.1"/>
<text transform="translate(436.10,283.25) scale(0.86,1)" font-size="8.5" text-anchor="end" fill="#1c1c1c" stroke="#1c1c1c" stroke-width="0.18">6</text>
<line x1="439.40" y1="304.95" x2="442.40" y2="304.95" stroke="#222" stroke-width="1.1"/>
<text transform="translate(436.10,307.90) scale(0.86,1)" font-size="8.5" text-anchor="end" fill="#1c1c1c" stroke="#1c1c1c" stroke-width="0.18">4</text>
<line x1="439.40" y1="329.60" x2="442.40" y2="329.60" stroke="#222" stroke-width="1.1"/>
<text transform="translate(436.10,332.55) scale(0.86,1)" font-size="8.5" text-anchor="end" fill="#1c1c1c" stroke="#1c1c1c" stroke-width="0.18">2</text>
<line x1="439.40" y1="354.25" x2="442.40" y2="354.25" stroke="#222" stroke-width="1.1"/>
<text transform="translate(436.10,357.20) scale(0.86,1)" font-size="8.5" text-anchor="end" fill="#1c1c1c" stroke="#1c1c1c" stroke-width="0.18">0</text>
<text transform="translate(421.90,290.30) rotate(-90)" font-size="8.4" text-anchor="middle" fill="#1c1c1c" stroke="#1c1c1c" stroke-width="0.1" textLength="53.3" lengthAdjust="spacingAndGlyphs">PS exposure (%)</text>
<line x1="462.60" y1="272.40" x2="462.60" y2="316.70" stroke="#333" stroke-width="1.2"/>
<line x1="452.40" y1="294.70" x2="472.80" y2="294.70" stroke="#333" stroke-width="1.4"/>
<line x1="457.20" y1="272.40" x2="468.00" y2="272.40" stroke="#333" stroke-width="1.4"/>
<line x1="457.20" y1="316.70" x2="468.00" y2="316.70" stroke="#333" stroke-width="1.4"/>
<line x1="493.30" y1="272.70" x2="493.30" y2="332.10" stroke="#333" stroke-width="1.2"/>
<line x1="483.00" y1="302.50" x2="503.60" y2="302.50" stroke="#333" stroke-width="1.4"/>
<line x1="488.10" y1="272.70" x2="498.50" y2="272.70" stroke="#333" stroke-width="1.4"/>
<line x1="488.10" y1="332.10" x2="498.50" y2="332.10" stroke="#333" stroke-width="1.4"/>
<text transform="translate(467.10,364.85) rotate(-45) scale(0.97,1)" font-size="8.7" text-anchor="end" fill="#1c1c1c" stroke="#1c1c1c" stroke-width="0.1">Cxcl12<tspan font-size="6.4" dx="0.4" dy="-3.4">wt/wt</tspan></text>
<line x1="462.50" y1="354.25" x2="462.50" y2="357.45" stroke="#222" stroke-width="1.1"/>
<text transform="translate(497.90,364.85) rotate(-45) scale(0.97,1)" font-size="8.7" text-anchor="end" fill="#1c1c1c" stroke="#1c1c1c" stroke-width="0.1">Cxcl12<tspan font-size="6.4" dx="0.4" dy="-3.4">Δplt/Δplt</tspan></text>
<line x1="493.30" y1="354.25" x2="493.30" y2="357.45" stroke="#222" stroke-width="1.1"/>
<text x="6.50" y="425.30" font-size="10.8" text-anchor="start" font-weight="bold" fill="#000" >J</text>
<g id="jimg">
<rect x="23" y="428.7" width="96.5" height="73.5" fill="#888" filter="url(#t1)"/>
<clipPath id="c1"><rect x="23" y="428.7" width="96.5" height="73.5"/></clipPath>
<filter id="sb" x="-20%" y="-20%" width="140%" height="140%"><feGaussianBlur stdDeviation="1.6"/></filter>
<g clip-path="url(#c1)"><g filter="url(#sb)" fill="#6e6e6e" opacity="0.85"><path d="M20 449L50 446L75 443.5L100 447.5L124 452L124 459L100 457.5L75 458L50 462L20 464Z"/><path d="M62 463L80 466L100 473L124 479L124 492L100 486L80 480L62 476Z"/></g></g>
<rect x="33" y="511.5" width="69" height="47.5" fill="#888" filter="url(#t1i)"/>
<rect x="24" y="565" width="97" height="73.5" fill="#888" filter="url(#t2)"/>
<rect x="38.8" y="648.8" width="68" height="47.3" fill="#7b7b7b"/>
<clipPath id="c2i"><rect x="38.8" y="648.8" width="68" height="47.3"/></clipPath>
<g clip-path="url(#c2i)" stroke="#6a6a6a" stroke-width="0.6" opacity="0.3"><path d="M40 662L60 690M60 650L45 675M80 650L106 680" fill="none"/></g>
<g clip-path="url(#c2i)"><circle cx="49.7" cy="652.4" r="1.69" fill="#b4b4b4" stroke="#3c3c3c" stroke-width="0.6"/><circle cx="57.5" cy="659.2" r="1.43" fill="#b4b4b4" stroke="#3c3c3c" stroke-width="0.6"/><circle cx="53.0" cy="651.6" r="1.35" fill="#d6d6d6" stroke="#3c3c3c" stroke-width="0.6"/><circle cx="41.8" cy="656.1" r="1.87" fill="#b4b4b4" stroke="#3c3c3c" stroke-width="0.6"/><circle cx="57.3" cy="654.6" r="1.89" fill="#b4b4b4" stroke="#3c3c3c" stroke-width="0.6"/><circle cx="56.7" cy="652.2" r="1.55" fill="#b4b4b4" stroke="#3c3c3c" stroke-width="0.6"/><circle cx="57.1" cy="656.0" r="1.71" fill="#b4b4b4" stroke="#3c3c3c" stroke-width="0.6"/><circle cx="57.4" cy="656.8" r="1.52" fill="#b4b4b4" stroke="#3c3c3c" stroke-width="0.6"/><circle cx="56.9" cy="656.6" r="1.60" fill="#d6d6d6" stroke="#3c3c3c" stroke-width="0.6"/><circle cx="63.3" cy="655.2" r="1.85" fill="#a2a2a2" stroke="#3c3c3c" stroke-width="0.6"/><circle cx="49.0" cy="658.1" r="1.72" fill="#c8c8c8" stroke="#3c3c3c" stroke-width="0.6"/><circle cx="42.5" cy="653.7" r="1.60" fill="#a2a2a2" stroke="#3c3c3c" stroke-width="0.6"/><circle cx="61.9" cy="653.6" r="1.89" fill="#b4b4b4" stroke="#3c3c3c" stroke-width="0.6"/><circle cx="55.4" cy="652.5" r="1.51" fill="#d6d6d6" stroke="#3c3c3c" stroke-width="0.6"/><circle cx="52.7" cy="659.7" r="1.35" fill="#a2a2a2" stroke="#3c3c3c" stroke-width="0.6"/><circle cx="50.2" cy="654.2" r="1.60" fill="#d6d6d6" stroke="#3c3c3c" stroke-width="0.6"/><circle cx="48.1" cy="657.3" r="1.34" fill="#a2a2a2" stroke="#3c3c3c" stroke-width="0.6"/><circle cx="64.7" cy="653.6" r="1.53" fill="#a2a2a2" stroke="#3c3c3c" stroke-width="0.6"/><circle cx="40.7" cy="655.2" r="1.40" fill="#b4b4b4" stroke="#3c3c3c" stroke-width="0.6"/><circle cx="54.8" cy="653.0" r="1.47" fill="#c8c8c8" stroke="#3c3c3c" stroke-width="0.6"/><circle cx="51.9" cy="659.3" r="1.60" fill="#c8c8c8" stroke="#3c3c3c" stroke-width="0.6"/><circle cx="53.5" cy="655.9" r="1.83" fill="#d6d6d6" stroke="#3c3c3c" stroke-width="0.6"/><circle cx="65.9" cy="653.5" r="1.55" fill="#a2a2a2" stroke="#3c3c3c" stroke-width="0.6"/><circle cx="60.5" cy="654.4" r="1.44" fill="#b4b4b4" stroke="#3c3c3c" stroke-width="0.6"/><circle cx="45.3" cy="653.1" r="1.44" fill="#d6d6d6" stroke="#3c3c3c" stroke-width="0.6"/><circle cx="64.9" cy="652.6" r="1.47" fill="#c8c8c8" stroke="#3c3c3c" stroke-width="0.6"/><circle cx="52.6" cy="654.3" r="1.64" fill="#c8c8c8" stroke="#3c3c3c" stroke-width="0.6"/><circle cx="60.7" cy="655.6" r="1.67" fill="#b4b4b4" stroke="#3c3c3c" stroke-width="0.6"/><circle cx="53.7" cy="658.8" r="1.87" fill="#d6d6d6" stroke="#3c3c3c" stroke-width="0.6"/><circle cx="51.9" cy="654.5" r="1.59" fill="#d6d6d6" stroke="#3c3c3c" stroke-width="0.6"/><circle cx="65.7" cy="665.8" r="1.50" fill="#b4b4b4" stroke="#3c3c3c" stroke-width="0.6"/><circle cx="62.3" cy="672.6" r="1.62" fill="#a2a2a2" stroke="#3c3c3c" stroke-width="0.6"/><circle cx="78.6" cy="664.2" r="1.42" fill="#d6d6d6" stroke="#3c3c3c" stroke-width="0.6"/><circle cx="63.8" cy="667.3" r="1.51" fill="#a2a2a2" stroke="#3c3c3c" stroke-width="0.6"/><circle cx="74.2" cy="665.0" r="1.59" fill="#d6d6d6" stroke="#3c3c3c" stroke-width="0.6"/><circle cx="74.4" cy="668.3" r="1.39" fill="#a2a2a2" stroke="#3c3c3c" stroke-width="0.6"/><circle cx="82.7" cy="671.1" r="1.72" fill="#b4b4b4" stroke="#3c3c3c" stroke-width="0.6"/><circle cx="70.6" cy="674.7" r="1.85" fill="#a2a2a2" stroke="#3c3c3c" stroke-width="0.6"/><circle cx="81.3" cy="667.4" r="1.52" fill="#c8c8c8" stroke="#3c3c3c" stroke-width="0.6"/><circle cx="70.4" cy="666.8" r="1.62" fill="#a2a2a2" stroke="#3c3c3c" stroke-width="0.6"/><circle cx="79.4" cy="673.4" r="1.77" fill="#c8c8c8" stroke="#3c3c3c" stroke-width="0.6"/><circle cx="84.8" cy="676.9" r="1.74" fill="#c8c8c8" stroke="#3c3c3c" stroke-width="0.6"/><circle cx="65.4" cy="671.4" r="1.74" fill="#b4b4b4" stroke="#3c3c3c" stroke-width="0.6"/><circle cx="84.3" cy="671.0" r="1.42" fill="#a2a2a2" stroke="#3c3c3c" stroke-width="0.6"/><circle cx="73.3" cy="678.9" r="1.89" fill="#a2a2a2" stroke="#3c3c3c" stroke-width="0.6"/><circle cx="74.0" cy="668.7" r="1.59" fill="#b4b4b4" stroke="#3c3c3c" stroke-width="0.6"/><circle cx="74.3" cy="674.1" r="1.78" fill="#b4b4b4" stroke="#3c3c3c" stroke-width="0.6"/><circle cx="71.4" cy="675.1" r="1.42" fill="#c8c8c8" stroke="#3c3c3c" stroke-width="0.6"/><circle cx="72.9" cy="673.8" r="1.35" fill="#d6d6d6" stroke="#3c3c3c" stroke-width="0.6"/><circle cx="73.8" cy="675.6" r="1.35" fill="#c8c8c8" stroke="#3c3c3c" stroke-width="0.6"/><circle cx="64.4" cy="665.2" r="1.39" fill="#d6d6d6" stroke="#3c3c3c" stroke-width="0.6"/><circle cx="84.8" cy="665.5" r="1.80" fill="#d6d6d6" stroke="#3c3c3c" stroke-width="0.6"/><circle cx="80.0" cy="669.0" r="1.63" fill="#c8c8c8" stroke="#3c3c3c" stroke-width="0.6"/><circle cx="82.2" cy="664.7" r="1.75" fill="#c8c8c8" stroke="#3c3c3c" stroke-width="0.6"/><circle cx="72.9" cy="677.8" r="1.80" fill="#c8c8c8" stroke="#3c3c3c" stroke-width="0.6"/><circle cx="75.0" cy="676.0" r="1.50" fill="#d6d6d6" stroke="#3c3c3c" stroke-width="0.6"/><circle cx="82.7" cy="678.3" r="1.70" fill="#d6d6d6" stroke="#3c3c3c" stroke-width="0.6"/><circle cx="75.3" cy="677.8" r="1.77" fill="#b4b4b4" stroke="#3c3c3c" stroke-width="0.6"/><circle cx="83.8" cy="665.5" r="1.38" fill="#b4b4b4" stroke="#3c3c3c" stroke-width="0.6"/><circle cx="76.8" cy="668.5" r="1.61" fill="#d6d6d6" stroke="#3c3c3c" stroke-width="0.6"/><circle cx="84.1" cy="664.8" r="1.64" fill="#c8c8c8" stroke="#3c3c3c" stroke-width="0.6"/><circle cx="62.1" cy="670.7" r="1.32" fill="#b4b4b4" stroke="#3c3c3c" stroke-width="0.6"/><circle cx="73.2" cy="673.4" r="1.60" fill="#c8c8c8" stroke="#3c3c3c" stroke-width="0.6"/><circle cx="81.2" cy="670.7" r="1.62" fill="#d6d6d6" stroke="#3c3c3c" stroke-width="0.6"/><circle cx="75.2" cy="667.2" r="1.61" fill="#a2a2a2" stroke="#3c3c3c" stroke-width="0.6"/><circle cx="65.5" cy="670.6" r="1.55" fill="#d6d6d6" stroke="#3c3c3c" stroke-width="0.6"/><circle cx="73.1" cy="664.2" r="1.44" fill="#b4b4b4" stroke="#3c3c3c" stroke-width="0.6"/><circle cx="65.8" cy="668.1" r="1.37" fill="#c8c8c8" stroke="#3c3c3c" stroke-width="0.6"/><circle cx="89.1" cy="673.9" r="1.52" fill="#a2a2a2" stroke="#3c3c3c" stroke-width="0.6"/><circle cx="71.7" cy="671.3" r="1.89" fill="#c8c8c8" stroke="#3c3c3c" stroke-width="0.6"/><circle cx="64.2" cy="670.3" r="1.61" fill="#a2a2a2" stroke="#3c3c3c" stroke-width="0.6"/><circle cx="72.5" cy="669.1" r="1.36" fill="#a2a2a2" stroke="#3c3c3c" stroke-width="0.6"/><circle cx="59.6" cy="672.4" r="1.56" fill="#b4b4b4" stroke="#3c3c3c" stroke-width="0.6"/><circle cx="71.3" cy="671.8" r="1.48" fill="#b4b4b4" stroke="#3c3c3c" stroke-width="0.6"/><circle cx="66.3" cy="677.9" r="1.35" fill="#a2a2a2" stroke="#3c3c3c" stroke-width="0.6"/><circle cx="67.7" cy="665.2" r="1.55" fill="#a2a2a2" stroke="#3c3c3c" stroke-width="0.6"/><circle cx="72.0" cy="672.1" r="1.61" fill="#d6d6d6" stroke="#3c3c3c" stroke-width="0.6"/><circle cx="81.4" cy="664.5" r="1.33" fill="#c8c8c8" stroke="#3c3c3c" stroke-width="0.6"/><circle cx="72.6" cy="664.2" r="1.86" fill="#b4b4b4" stroke="#3c3c3c" stroke-width="0.6"/><circle cx="86.6" cy="670.7" r="1.50" fill="#d6d6d6" stroke="#3c3c3c" stroke-width="0.6"/><circle cx="88.7" cy="667.6" r="1.38" fill="#c8c8c8" stroke="#3c3c3c" stroke-width="0.6"/><circle cx="67.4" cy="666.1" r="1.86" fill="#a2a2a2" stroke="#3c3c3c" stroke-width="0.6"/><circle cx="76.0" cy="666.5" r="1.57" fill="#c8c8c8" stroke="#3c3c3c" stroke-width="0.6"/><circle cx="67.7" cy="676.7" r="1.90" fill="#b4b4b4" stroke="#3c3c3c" stroke-width="0.6"/><circle cx="76.6" cy="666.2" r="1.58" fill="#d6d6d6" stroke="#3c3c3c" stroke-width="0.6"/><circle cx="50.5" cy="687.9" r="1.80" fill="#d6d6d6" stroke="#3c3c3c" stroke-width="0.6"/><circle cx="45.7" cy="684.8" r="1.42" fill="#c8c8c8" stroke="#3c3c3c" stroke-width="0.6"/><circle cx="49.9" cy="686.2" r="1.33" fill="#c8c8c8" stroke="#3c3c3c" stroke-width="0.6"/><circle cx="60.4" cy="687.2" r="1.33" fill="#d6d6d6" stroke="#3c3c3c" stroke-width="0.6"/><circle cx="60.2" cy="690.0" r="1.47" fill="#c8c8c8" stroke="#3c3c3c" stroke-width="0.6"/><circle cx="56.2" cy="682.5" r="1.41" fill="#a2a2a2" stroke="#3c3c3c" stroke-width="0.6"/><circle cx="50.8" cy="685.2" r="1.88" fill="#a2a2a2" stroke="#3c3c3c" stroke-width="0.6"/><circle cx="47.8" cy="686.3" r="1.30" fill="#d6d6d6" stroke="#3c3c3c" stroke-width="0.6"/><circle cx="42.8" cy="685.3" r="1.69" fill="#c8c8c8" stroke="#3c3c3c" stroke-width="0.6"/><circle cx="52.1" cy="682.1" r="1.46" fill="#b4b4b4" stroke="#3c3c3c" stroke-width="0.6"/><circle cx="44.2" cy="689.0" r="1.54" fill="#a2a2a2" stroke="#3c3c3c" stroke-width="0.6"/><circle cx="47.7" cy="684.8" r="1.65" fill="#c8c8c8" stroke="#3c3c3c" stroke-width="0.6"/><circle cx="55.5" cy="690.6" r="1.83" fill="#d6d6d6" stroke="#3c3c3c" stroke-width="0.6"/><circle cx="57.8" cy="690.6" r="1.60" fill="#a2a2a2" stroke="#3c3c3c" stroke-width="0.6"/><circle cx="56.9" cy="689.7" r="1.33" fill="#d6d6d6" stroke="#3c3c3c" stroke-width="0.6"/><circle cx="57.1" cy="691.7" r="1.38" fill="#b4b4b4" stroke="#3c3c3c" stroke-width="0.6"/><circle cx="59.2" cy="689.0" r="1.84" fill="#c8c8c8" stroke="#3c3c3c" stroke-width="0.6"/><circle cx="55.0" cy="693.5" r="1.53" fill="#d6d6d6" stroke="#3c3c3c" stroke-width="0.6"/><circle cx="53.3" cy="689.5" r="1.68" fill="#c8c8c8" stroke="#3c3c3c" stroke-width="0.6"/><circle cx="51.8" cy="682.0" r="1.78" fill="#b4b4b4" stroke="#3c3c3c" stroke-width="0.6"/><circle cx="55.5" cy="682.8" r="1.74" fill="#a2a2a2" stroke="#3c3c3c" stroke-width="0.6"/><circle cx="58.8" cy="692.2" r="1.44" fill="#c8c8c8" stroke="#3c3c3c" stroke-width="0.6"/><circle cx="46.1" cy="689.8" r="1.58" fill="#d6d6d6" stroke="#3c3c3c" stroke-width="0.6"/><circle cx="54.9" cy="684.4" r="1.66" fill="#a2a2a2" stroke="#3c3c3c" stroke-width="0.6"/><circle cx="46.6" cy="690.9" r="1.48" fill="#c8c8c8" stroke="#3c3c3c" stroke-width="0.6"/><circle cx="46.9" cy="690.1" r="1.72" fill="#d6d6d6" stroke="#3c3c3c" stroke-width="0.6"/><circle cx="47.4" cy="688.2" r="1.58" fill="#d6d6d6" stroke="#3c3c3c" stroke-width="0.6"/><circle cx="53.1" cy="685.7" r="1.35" fill="#d6d6d6" stroke="#3c3c3c" stroke-width="0.6"/><circle cx="41.4" cy="687.5" r="1.79" fill="#d6d6d6" stroke="#3c3c3c" stroke-width="0.6"/><circle cx="57.4" cy="685.1" r="1.52" fill="#a2a2a2" stroke="#3c3c3c" stroke-width="0.6"/><circle cx="101.6" cy="692.1" r="1.44" fill="#d6d6d6" stroke="#3c3c3c" stroke-width="0.6"/><circle cx="86.8" cy="687.8" r="1.87" fill="#d6d6d6" stroke="#3c3c3c" stroke-width="0.6"/><circle cx="87.2" cy="692.3" r="1.55" fill="#d6d6d6" stroke="#3c3c3c" stroke-width="0.6"/><circle cx="84.5" cy="693.2" r="1.30" fill="#a2a2a2" stroke="#3c3c3c" stroke-width="0.6"/><circle cx="102.8" cy="692.2" r="1.84" fill="#a2a2a2" stroke="#3c3c3c" stroke-width="0.6"/><circle cx="86.7" cy="693.5" r="1.35" fill="#d6d6d6" stroke="#3c3c3c" stroke-width="0.6"/><circle cx="97.7" cy="693.3" r="1.47" fill="#b4b4b4" stroke="#3c3c3c" stroke-width="0.6"/><circle cx="100.0" cy="688.8" r="1.86" fill="#c8c8c8" stroke="#3c3c3c" stroke-width="0.6"/><circle cx="104.1" cy="690.0" r="1.49" fill="#a2a2a2" stroke="#3c3c3c" stroke-width="0.6"/><circle cx="98.6" cy="689.9" r="1.32" fill="#d6d6d6" stroke="#3c3c3c" stroke-width="0.6"/><circle cx="91.5" cy="692.3" r="1.33" fill="#d6d6d6" stroke="#3c3c3c" stroke-width="0.6"/><circle cx="88.5" cy="692.5" r="1.69" fill="#a2a2a2" stroke="#3c3c3c" stroke-width="0.6"/><circle cx="89.6" cy="693.8" r="1.63" fill="#c8c8c8" stroke="#3c3c3c" stroke-width="0.6"/><circle cx="89.2" cy="689.2" r="1.48" fill="#a2a2a2" stroke="#3c3c3c" stroke-width="0.6"/><circle cx="87.2" cy="688.4" r="1.59" fill="#d6d6d6" stroke="#3c3c3c" stroke-width="0.6"/><circle cx="78.6" cy="691.6" r="1.35" fill="#d6d6d6" stroke="#3c3c3c" stroke-width="0.6"/><circle cx="91.5" cy="690.1" r="1.50" fill="#d6d6d6" stroke="#3c3c3c" stroke-width="0.6"/><circle cx="87.8" cy="690.9" r="1.45" fill="#c8c8c8" stroke="#3c3c3c" stroke-width="0.6"/><circle cx="85.3" cy="687.2" r="1.44" fill="#a2a2a2" stroke="#3c3c3c" stroke-width="0.6"/><circle cx="99.3" cy="688.1" r="1.31" fill="#d6d6d6" stroke="#3c3c3c" stroke-width="0.6"/><circle cx="86.5" cy="692.5" r="1.43" fill="#a2a2a2" stroke="#3c3c3c" stroke-width="0.6"/><circle cx="85.1" cy="687.0" r="1.47" fill="#a2a2a2" stroke="#3c3c3c" stroke-width="0.6"/><circle cx="78.8" cy="690.5" r="1.68" fill="#c8c8c8" stroke="#3c3c3c" stroke-width="0.6"/><circle cx="86.5" cy="691.7" r="1.56" fill="#a2a2a2" stroke="#3c3c3c" stroke-width="0.6"/><circle cx="95.8" cy="653.0" r="1.58" fill="#d6d6d6" stroke="#3c3c3c" stroke-width="0.6"/><circle cx="87.5" cy="649.0" r="1.39" fill="#b4b4b4" stroke="#3c3c3c" stroke-width="0.6"/><circle cx="99.9" cy="652.1" r="1.69" fill="#d6d6d6" stroke="#3c3c3c" stroke-width="0.6"/><circle cx="84.5" cy="652.4" r="1.30" fill="#c8c8c8" stroke="#3c3c3c" stroke-width="0.6"/><circle cx="87.2" cy="653.1" r="1.69" fill="#a2a2a2" stroke="#3c3c3c" stroke-width="0.6"/><circle cx="100.3" cy="651.6" r="1.62" fill="#d6d6d6" stroke="#3c3c3c" stroke-width="0.6"/></g>
<clipPath id="c1i"><rect x="33" y="511.5" width="69" height="47.5"/></clipPath>
<g clip-path="url(#c1i)"><circle cx="91.8" cy="514.0" r="1.34" fill="#c8c8c8" stroke="#3a3a3a" stroke-width="0.7"/><circle cx="81.2" cy="516.0" r="1.60" fill="#a8a8a8" stroke="#3a3a3a" stroke-width="0.7"/><circle cx="86.3" cy="529.9" r="1.44" fill="#a2a2a2" stroke="#3a3a3a" stroke-width="0.7"/><circle cx="89.9" cy="527.9" r="1.54" fill="#c8c8c8" stroke="#3a3a3a" stroke-width="0.7"/><circle cx="86.6" cy="512.5" r="1.51" fill="#a2a2a2" stroke="#3a3a3a" stroke-width="0.7"/><circle cx="98.1" cy="523.6" r="1.34" fill="#c8c8c8" stroke="#3a3a3a" stroke-width="0.7"/><circle cx="90.7" cy="528.7" r="1.41" fill="#a8a8a8" stroke="#3a3a3a" stroke-width="0.7"/><circle cx="91.7" cy="524.9" r="1.48" fill="#d6d6d6" stroke="#3a3a3a" stroke-width="0.7"/><circle cx="74.7" cy="526.3" r="1.67" fill="#a8a8a8" stroke="#3a3a3a" stroke-width="0.7"/><circle cx="78.6" cy="526.8" r="1.42" fill="#c8c8c8" stroke="#3a3a3a" stroke-width="0.7"/><circle cx="77.0" cy="528.0" r="1.35" fill="#d6d6d6" stroke="#3a3a3a" stroke-width="0.7"/><circle cx="88.7" cy="528.1" r="1.54" fill="#a8a8a8" stroke="#3a3a3a" stroke-width="0.7"/><circle cx="81.4" cy="515.8" r="1.79" fill="#c8c8c8" stroke="#3a3a3a" stroke-width="0.7"/><circle cx="82.1" cy="524.8" r="1.39" fill="#d6d6d6" stroke="#3a3a3a" stroke-width="0.7"/><circle cx="99.7" cy="517.9" r="1.39" fill="#d6d6d6" stroke="#3a3a3a" stroke-width="0.7"/><circle cx="69.1" cy="524.0" r="1.49" fill="#a2a2a2" stroke="#3a3a3a" stroke-width="0.7"/><circle cx="101.5" cy="520.0" r="1.35" fill="#a8a8a8" stroke="#3a3a3a" stroke-width="0.7"/><circle cx="77.5" cy="518.3" r="1.78" fill="#a8a8a8" stroke="#3a3a3a" stroke-width="0.7"/><circle cx="87.1" cy="525.7" r="1.49" fill="#a2a2a2" stroke="#3a3a3a" stroke-width="0.7"/><circle cx="95.9" cy="519.8" r="1.32" fill="#d6d6d6" stroke="#3a3a3a" stroke-width="0.7"/><circle cx="74.7" cy="521.7" r="1.52" fill="#a2a2a2" stroke="#3a3a3a" stroke-width="0.7"/><circle cx="80.4" cy="528.1" r="1.32" fill="#d6d6d6" stroke="#3a3a3a" stroke-width="0.7"/><circle cx="76.4" cy="523.3" r="1.50" fill="#d6d6d6" stroke="#3a3a3a" stroke-width="0.7"/><circle cx="99.3" cy="516.6" r="1.67" fill="#a2a2a2" stroke="#3a3a3a" stroke-width="0.7"/><circle cx="80.3" cy="518.0" r="1.78" fill="#a8a8a8" stroke="#3a3a3a" stroke-width="0.7"/><circle cx="76.9" cy="524.9" r="1.46" fill="#a2a2a2" stroke="#3a3a3a" stroke-width="0.7"/><circle cx="78.1" cy="525.0" r="1.60" fill="#a8a8a8" stroke="#3a3a3a" stroke-width="0.7"/><circle cx="84.2" cy="529.2" r="1.78" fill="#d6d6d6" stroke="#3a3a3a" stroke-width="0.7"/><circle cx="95.7" cy="514.4" r="1.55" fill="#a8a8a8" stroke="#3a3a3a" stroke-width="0.7"/><circle cx="95.3" cy="525.3" r="1.71" fill="#c8c8c8" stroke="#3a3a3a" stroke-width="0.7"/><circle cx="88.6" cy="517.9" r="1.46" fill="#a2a2a2" stroke="#3a3a3a" stroke-width="0.7"/><circle cx="94.7" cy="522.7" r="1.56" fill="#d6d6d6" stroke="#3a3a3a" stroke-width="0.7"/><circle cx="93.6" cy="516.5" r="1.33" fill="#a8a8a8" stroke="#3a3a3a" stroke-width="0.7"/><circle cx="84.4" cy="521.8" r="1.38" fill="#d6d6d6" stroke="#3a3a3a" stroke-width="0.7"/><circle cx="77.0" cy="513.5" r="1.35" fill="#d6d6d6" stroke="#3a3a3a" stroke-width="0.7"/><circle cx="73.9" cy="514.4" r="1.53" fill="#c8c8c8" stroke="#3a3a3a" stroke-width="0.7"/><circle cx="93.4" cy="527.2" r="1.63" fill="#a8a8a8" stroke="#3a3a3a" stroke-width="0.7"/><circle cx="94.5" cy="517.3" r="1.44" fill="#a2a2a2" stroke="#3a3a3a" stroke-width="0.7"/><circle cx="80.7" cy="525.3" r="1.40" fill="#c8c8c8" stroke="#3a3a3a" stroke-width="0.7"/><circle cx="74.3" cy="516.2" r="1.44" fill="#c8c8c8" stroke="#3a3a3a" stroke-width="0.7"/><circle cx="79.1" cy="519.1" r="1.80" fill="#c8c8c8" stroke="#3a3a3a" stroke-width="0.7"/><circle cx="90.1" cy="513.8" r="1.53" fill="#a8a8a8" stroke="#3a3a3a" stroke-width="0.7"/><circle cx="71.5" cy="520.5" r="1.71" fill="#d6d6d6" stroke="#3a3a3a" stroke-width="0.7"/><circle cx="78.0" cy="514.1" r="1.39" fill="#c8c8c8" stroke="#3a3a3a" stroke-width="0.7"/><circle cx="99.6" cy="518.7" r="1.73" fill="#d6d6d6" stroke="#3a3a3a" stroke-width="0.7"/><circle cx="88.5" cy="525.9" r="1.63" fill="#a8a8a8" stroke="#3a3a3a" stroke-width="0.7"/><circle cx="71.6" cy="522.7" r="1.61" fill="#c8c8c8" stroke="#3a3a3a" stroke-width="0.7"/><circle cx="69.3" cy="518.1" r="1.32" fill="#a2a2a2" stroke="#3a3a3a" stroke-width="0.7"/><circle cx="95.8" cy="519.4" r="1.49" fill="#a2a2a2" stroke="#3a3a3a" stroke-width="0.7"/><circle cx="84.9" cy="520.7" r="1.50" fill="#d6d6d6" stroke="#3a3a3a" stroke-width="0.7"/><circle cx="90.6" cy="514.8" r="1.57" fill="#c8c8c8" stroke="#3a3a3a" stroke-width="0.7"/><circle cx="81.5" cy="516.9" r="1.79" fill="#a2a2a2" stroke="#3a3a3a" stroke-width="0.7"/><circle cx="82.2" cy="512.9" r="1.67" fill="#a2a2a2" stroke="#3a3a3a" stroke-width="0.7"/><circle cx="82.1" cy="512.3" r="1.68" fill="#a2a2a2" stroke="#3a3a3a" stroke-width="0.7"/><circle cx="89.9" cy="519.0" r="1.50" fill="#a8a8a8" stroke="#3a3a3a" stroke-width="0.7"/><circle cx="82.8" cy="514.8" r="1.36" fill="#a8a8a8" stroke="#3a3a3a" stroke-width="0.7"/><circle cx="81.8" cy="527.9" r="1.53" fill="#c8c8c8" stroke="#3a3a3a" stroke-width="0.7"/><circle cx="72.8" cy="526.5" r="1.50" fill="#a2a2a2" stroke="#3a3a3a" stroke-width="0.7"/><circle cx="93.1" cy="515.1" r="1.47" fill="#c8c8c8" stroke="#3a3a3a" stroke-width="0.7"/><circle cx="85.7" cy="528.7" r="1.35" fill="#d6d6d6" stroke="#3a3a3a" stroke-width="0.7"/><circle cx="93.6" cy="526.3" r="1.70" fill="#a2a2a2" stroke="#3a3a3a" stroke-width="0.7"/><circle cx="101.2" cy="520.7" r="1.33" fill="#d6d6d6" stroke="#3a3a3a" stroke-width="0.7"/><circle cx="70.9" cy="524.8" r="1.64" fill="#c8c8c8" stroke="#3a3a3a" stroke-width="0.7"/><circle cx="89.8" cy="527.4" r="1.61" fill="#c8c8c8" stroke="#3a3a3a" stroke-width="0.7"/><circle cx="96.2" cy="515.3" r="1.41" fill="#d6d6d6" stroke="#3a3a3a" stroke-width="0.7"/><circle cx="80.2" cy="514.7" r="1.79" fill="#c8c8c8" stroke="#3a3a3a" stroke-width="0.7"/><circle cx="69.4" cy="522.1" r="1.68" fill="#a8a8a8" stroke="#3a3a3a" stroke-width="0.7"/><circle cx="90.7" cy="517.8" r="1.49" fill="#d6d6d6" stroke="#3a3a3a" stroke-width="0.7"/><circle cx="86.7" cy="523.3" r="1.45" fill="#d6d6d6" stroke="#3a3a3a" stroke-width="0.7"/><circle cx="78.5" cy="516.5" r="1.49" fill="#a2a2a2" stroke="#3a3a3a" stroke-width="0.7"/><circle cx="83.2" cy="519.9" r="1.31" fill="#d6d6d6" stroke="#3a3a3a" stroke-width="0.7"/><circle cx="83.8" cy="520.0" r="1.61" fill="#d6d6d6" stroke="#3a3a3a" stroke-width="0.7"/><circle cx="96.4" cy="526.6" r="1.50" fill="#a8a8a8" stroke="#3a3a3a" stroke-width="0.7"/><circle cx="72.4" cy="519.8" r="1.35" fill="#d6d6d6" stroke="#3a3a3a" stroke-width="0.7"/><circle cx="85.1" cy="523.8" r="1.32" fill="#c8c8c8" stroke="#3a3a3a" stroke-width="0.7"/><circle cx="70.8" cy="525.2" r="1.69" fill="#a8a8a8" stroke="#3a3a3a" stroke-width="0.7"/><circle cx="69.8" cy="521.1" r="1.49" fill="#c8c8c8" stroke="#3a3a3a" stroke-width="0.7"/><circle cx="88.9" cy="524.5" r="1.35" fill="#c8c8c8" stroke="#3a3a3a" stroke-width="0.7"/><circle cx="101.4" cy="520.9" r="1.78" fill="#c8c8c8" stroke="#3a3a3a" stroke-width="0.7"/><circle cx="91.3" cy="525.0" r="1.41" fill="#a2a2a2" stroke="#3a3a3a" stroke-width="0.7"/><circle cx="88.8" cy="516.5" r="1.46" fill="#a2a2a2" stroke="#3a3a3a" stroke-width="0.7"/><circle cx="98.8" cy="520.2" r="1.43" fill="#d6d6d6" stroke="#3a3a3a" stroke-width="0.7"/><circle cx="75.1" cy="516.7" r="1.55" fill="#a2a2a2" stroke="#3a3a3a" stroke-width="0.7"/><circle cx="80.7" cy="515.6" r="1.50" fill="#a2a2a2" stroke="#3a3a3a" stroke-width="0.7"/><circle cx="91.1" cy="528.1" r="1.38" fill="#a2a2a2" stroke="#3a3a3a" stroke-width="0.7"/><circle cx="71.9" cy="521.6" r="1.62" fill="#a2a2a2" stroke="#3a3a3a" stroke-width="0.7"/><circle cx="100.8" cy="520.2" r="1.56" fill="#a8a8a8" stroke="#3a3a3a" stroke-width="0.7"/><circle cx="76.6" cy="521.6" r="1.73" fill="#a2a2a2" stroke="#3a3a3a" stroke-width="0.7"/><circle cx="87.6" cy="518.5" r="1.68" fill="#d6d6d6" stroke="#3a3a3a" stroke-width="0.7"/><circle cx="75.8" cy="523.1" r="1.78" fill="#a2a2a2" stroke="#3a3a3a" stroke-width="0.7"/><circle cx="95.9" cy="516.6" r="1.62" fill="#a2a2a2" stroke="#3a3a3a" stroke-width="0.7"/><circle cx="92.9" cy="525.4" r="1.41" fill="#a2a2a2" stroke="#3a3a3a" stroke-width="0.7"/><circle cx="88.9" cy="519.8" r="1.56" fill="#a8a8a8" stroke="#3a3a3a" stroke-width="0.7"/><circle cx="72.5" cy="516.1" r="1.63" fill="#a8a8a8" stroke="#3a3a3a" stroke-width="0.7"/><circle cx="69.8" cy="522.2" r="1.45" fill="#a2a2a2" stroke="#3a3a3a" stroke-width="0.7"/><circle cx="86.2" cy="519.4" r="1.45" fill="#c8c8c8" stroke="#3a3a3a" stroke-width="0.7"/><circle cx="74.9" cy="523.2" r="1.54" fill="#c8c8c8" stroke="#3a3a3a" stroke-width="0.7"/><circle cx="92.1" cy="520.1" r="1.33" fill="#c8c8c8" stroke="#3a3a3a" stroke-width="0.7"/><circle cx="97.6" cy="526.1" r="1.50" fill="#a2a2a2" stroke="#3a3a3a" stroke-width="0.7"/><circle cx="88.2" cy="522.4" r="1.60" fill="#d6d6d6" stroke="#3a3a3a" stroke-width="0.7"/><circle cx="76.4" cy="528.3" r="1.32" fill="#a8a8a8" stroke="#3a3a3a" stroke-width="0.7"/><circle cx="81.8" cy="516.3" r="1.33" fill="#a8a8a8" stroke="#3a3a3a" stroke-width="0.7"/><circle cx="68.4" cy="521.9" r="1.77" fill="#c8c8c8" stroke="#3a3a3a" stroke-width="0.7"/><circle cx="82.0" cy="521.3" r="1.62" fill="#d6d6d6" stroke="#3a3a3a" stroke-width="0.7"/><circle cx="95.7" cy="515.1" r="1.45" fill="#a2a2a2" stroke="#3a3a3a" stroke-width="0.7"/><circle cx="92.6" cy="520.6" r="1.57" fill="#d6d6d6" stroke="#3a3a3a" stroke-width="0.7"/><circle cx="96.7" cy="525.4" r="1.53" fill="#d6d6d6" stroke="#3a3a3a" stroke-width="0.7"/><circle cx="76.9" cy="523.6" r="1.36" fill="#a2a2a2" stroke="#3a3a3a" stroke-width="0.7"/><circle cx="92.2" cy="516.8" r="1.58" fill="#d6d6d6" stroke="#3a3a3a" stroke-width="0.7"/><circle cx="91.3" cy="528.5" r="1.79" fill="#a2a2a2" stroke="#3a3a3a" stroke-width="0.7"/><circle cx="71.2" cy="548.2" r="1.41" fill="#a8a8a8" stroke="#3a3a3a" stroke-width="0.7"/><circle cx="80.0" cy="531.5" r="1.38" fill="#a2a2a2" stroke="#3a3a3a" stroke-width="0.7"/><circle cx="51.4" cy="535.6" r="1.60" fill="#d6d6d6" stroke="#3a3a3a" stroke-width="0.7"/><circle cx="82.9" cy="540.9" r="1.65" fill="#d6d6d6" stroke="#3a3a3a" stroke-width="0.7"/><circle cx="63.8" cy="538.7" r="1.30" fill="#a8a8a8" stroke="#3a3a3a" stroke-width="0.7"/><circle cx="62.2" cy="542.9" r="1.59" fill="#a2a2a2" stroke="#3a3a3a" stroke-width="0.7"/><circle cx="77.7" cy="535.6" r="1.59" fill="#c8c8c8" stroke="#3a3a3a" stroke-width="0.7"/><circle cx="58.2" cy="530.1" r="1.31" fill="#a8a8a8" stroke="#3a3a3a" stroke-width="0.7"/><circle cx="49.1" cy="541.2" r="1.32" fill="#a8a8a8" stroke="#3a3a3a" stroke-width="0.7"/><circle cx="75.4" cy="528.4" r="1.60" fill="#a2a2a2" stroke="#3a3a3a" stroke-width="0.7"/><circle cx="66.5" cy="541.6" r="1.74" fill="#d6d6d6" stroke="#3a3a3a" stroke-width="0.7"/><circle cx="47.7" cy="531.5" r="1.36" fill="#a8a8a8" stroke="#3a3a3a" stroke-width="0.7"/><circle cx="76.2" cy="528.9" r="1.68" fill="#a2a2a2" stroke="#3a3a3a" stroke-width="0.7"/><circle cx="64.0" cy="529.9" r="1.70" fill="#c8c8c8" stroke="#3a3a3a" stroke-width="0.7"/><circle cx="56.0" cy="534.4" r="1.43" fill="#a2a2a2" stroke="#3a3a3a" stroke-width="0.7"/><circle cx="54.3" cy="533.2" r="1.66" fill="#a2a2a2" stroke="#3a3a3a" stroke-width="0.7"/><circle cx="83.1" cy="543.9" r="1.60" fill="#d6d6d6" stroke="#3a3a3a" stroke-width="0.7"/><circle cx="80.5" cy="540.6" r="1.32" fill="#d6d6d6" stroke="#3a3a3a" stroke-width="0.7"/><circle cx="44.4" cy="538.4" r="1.35" fill="#d6d6d6" stroke="#3a3a3a" stroke-width="0.7"/><circle cx="74.0" cy="538.8" r="1.41" fill="#a8a8a8" stroke="#3a3a3a" stroke-width="0.7"/><circle cx="68.3" cy="533.3" r="1.52" fill="#c8c8c8" stroke="#3a3a3a" stroke-width="0.7"/><circle cx="55.7" cy="543.5" r="1.33" fill="#a2a2a2" stroke="#3a3a3a" stroke-width="0.7"/><circle cx="64.6" cy="537.8" r="1.70" fill="#c8c8c8" stroke="#3a3a3a" stroke-width="0.7"/><circle cx="85.6" cy="540.0" r="1.78" fill="#a2a2a2" stroke="#3a3a3a" stroke-width="0.7"/><circle cx="68.4" cy="530.5" r="1.71" fill="#c8c8c8" stroke="#3a3a3a" stroke-width="0.7"/><circle cx="64.9" cy="529.4" r="1.62" fill="#a8a8a8" stroke="#3a3a3a" stroke-width="0.7"/><circle cx="64.6" cy="548.8" r="1.58" fill="#a8a8a8" stroke="#3a3a3a" stroke-width="0.7"/><circle cx="70.6" cy="534.8" r="1.50" fill="#d6d6d6" stroke="#3a3a3a" stroke-width="0.7"/><circle cx="82.2" cy="543.4" r="1.51" fill="#a8a8a8" stroke="#3a3a3a" stroke-width="0.7"/><circle cx="59.4" cy="533.7" r="1.51" fill="#c8c8c8" stroke="#3a3a3a" stroke-width="0.7"/><circle cx="59.7" cy="546.4" r="1.42" fill="#d6d6d6" stroke="#3a3a3a" stroke-width="0.7"/><circle cx="48.6" cy="540.1" r="1.64" fill="#a8a8a8" stroke="#3a3a3a" stroke-width="0.7"/><circle cx="58.3" cy="534.2" r="1.38" fill="#d6d6d6" stroke="#3a3a3a" stroke-width="0.7"/><circle cx="72.1" cy="543.3" r="1.38" fill="#d6d6d6" stroke="#3a3a3a" stroke-width="0.7"/><circle cx="73.3" cy="532.7" r="1.42" fill="#a2a2a2" stroke="#3a3a3a" stroke-width="0.7"/><circle cx="63.3" cy="546.5" r="1.42" fill="#c8c8c8" stroke="#3a3a3a" stroke-width="0.7"/><circle cx="54.8" cy="543.6" r="1.71" fill="#c8c8c8" stroke="#3a3a3a" stroke-width="0.7"/><circle cx="74.8" cy="540.3" r="1.47" fill="#c8c8c8" stroke="#3a3a3a" stroke-width="0.7"/><circle cx="57.4" cy="531.2" r="1.79" fill="#a8a8a8" stroke="#3a3a3a" stroke-width="0.7"/><circle cx="50.2" cy="541.5" r="1.40" fill="#c8c8c8" stroke="#3a3a3a" stroke-width="0.7"/><circle cx="75.3" cy="536.6" r="1.40" fill="#a8a8a8" stroke="#3a3a3a" stroke-width="0.7"/><circle cx="55.4" cy="546.5" r="1.53" fill="#a8a8a8" stroke="#3a3a3a" stroke-width="0.7"/><circle cx="60.6" cy="544.4" r="1.65" fill="#a2a2a2" stroke="#3a3a3a" stroke-width="0.7"/><circle cx="63.4" cy="530.1" r="1.60" fill="#d6d6d6" stroke="#3a3a3a" stroke-width="0.7"/><circle cx="80.5" cy="542.4" r="1.59" fill="#d6d6d6" stroke="#3a3a3a" stroke-width="0.7"/><circle cx="80.2" cy="541.7" r="1.63" fill="#c8c8c8" stroke="#3a3a3a" stroke-width="0.7"/><circle cx="72.9" cy="541.1" r="1.53" fill="#a2a2a2" stroke="#3a3a3a" stroke-width="0.7"/><circle cx="54.4" cy="542.4" r="1.75" fill="#c8c8c8" stroke="#3a3a3a" stroke-width="0.7"/><circle cx="77.4" cy="542.7" r="1.61" fill="#a2a2a2" stroke="#3a3a3a" stroke-width="0.7"/><circle cx="80.4" cy="537.6" r="1.31" fill="#d6d6d6" stroke="#3a3a3a" stroke-width="0.7"/><circle cx="65.8" cy="541.5" r="1.74" fill="#a2a2a2" stroke="#3a3a3a" stroke-width="0.7"/><circle cx="77.2" cy="535.6" r="1.54" fill="#a8a8a8" stroke="#3a3a3a" stroke-width="0.7"/><circle cx="44.7" cy="539.0" r="1.38" fill="#c8c8c8" stroke="#3a3a3a" stroke-width="0.7"/><circle cx="65.8" cy="529.2" r="1.59" fill="#c8c8c8" stroke="#3a3a3a" stroke-width="0.7"/><circle cx="74.6" cy="538.3" r="1.62" fill="#a2a2a2" stroke="#3a3a3a" stroke-width="0.7"/><circle cx="66.0" cy="536.0" r="1.77" fill="#c8c8c8" stroke="#3a3a3a" stroke-width="0.7"/><circle cx="65.6" cy="547.5" r="1.66" fill="#a2a2a2" stroke="#3a3a3a" stroke-width="0.7"/><circle cx="71.1" cy="532.6" r="1.49" fill="#a8a8a8" stroke="#3a3a3a" stroke-width="0.7"/><circle cx="43.6" cy="536.2" r="1.51" fill="#a2a2a2" stroke="#3a3a3a" stroke-width="0.7"/><circle cx="68.5" cy="529.4" r="1.45" fill="#d6d6d6" stroke="#3a3a3a" stroke-width="0.7"/><circle cx="84.4" cy="538.6" r="1.41" fill="#d6d6d6" stroke="#3a3a3a" stroke-width="0.7"/><circle cx="63.3" cy="530.6" r="1.76" fill="#a8a8a8" stroke="#3a3a3a" stroke-width="0.7"/><circle cx="78.6" cy="541.0" r="1.53" fill="#c8c8c8" stroke="#3a3a3a" stroke-width="0.7"/><circle cx="78.8" cy="530.2" r="1.63" fill="#d6d6d6" stroke="#3a3a3a" stroke-width="0.7"/><circle cx="63.6" cy="533.5" r="1.57" fill="#c8c8c8" stroke="#3a3a3a" stroke-width="0.7"/><circle cx="77.3" cy="537.3" r="1.69" fill="#c8c8c8" stroke="#3a3a3a" stroke-width="0.7"/><circle cx="54.8" cy="535.3" r="1.43" fill="#d6d6d6" stroke="#3a3a3a" stroke-width="0.7"/><circle cx="72.9" cy="537.6" r="1.70" fill="#a2a2a2" stroke="#3a3a3a" stroke-width="0.7"/><circle cx="58.8" cy="541.4" r="1.46" fill="#d6d6d6" stroke="#3a3a3a" stroke-width="0.7"/><circle cx="61.9" cy="541.0" r="1.63" fill="#a2a2a2" stroke="#3a3a3a" stroke-width="0.7"/><circle cx="49.7" cy="533.7" r="1.49" fill="#a8a8a8" stroke="#3a3a3a" stroke-width="0.7"/><circle cx="77.5" cy="530.1" r="1.72" fill="#a8a8a8" stroke="#3a3a3a" stroke-width="0.7"/><circle cx="71.9" cy="531.6" r="1.34" fill="#a2a2a2" stroke="#3a3a3a" stroke-width="0.7"/><circle cx="54.0" cy="529.2" r="1.37" fill="#c8c8c8" stroke="#3a3a3a" stroke-width="0.7"/><circle cx="51.2" cy="536.9" r="1.69" fill="#c8c8c8" stroke="#3a3a3a" stroke-width="0.7"/><circle cx="82.8" cy="544.4" r="1.38" fill="#a8a8a8" stroke="#3a3a3a" stroke-width="0.7"/><circle cx="72.4" cy="546.7" r="1.69" fill="#a2a2a2" stroke="#3a3a3a" stroke-width="0.7"/><circle cx="51.7" cy="542.2" r="1.57" fill="#d6d6d6" stroke="#3a3a3a" stroke-width="0.7"/><circle cx="72.5" cy="529.6" r="1.36" fill="#d6d6d6" stroke="#3a3a3a" stroke-width="0.7"/><circle cx="53.3" cy="530.1" r="1.55" fill="#a8a8a8" stroke="#3a3a3a" stroke-width="0.7"/><circle cx="64.3" cy="546.9" r="1.65" fill="#c8c8c8" stroke="#3a3a3a" stroke-width="0.7"/><circle cx="64.9" cy="538.9" r="1.73" fill="#a8a8a8" stroke="#3a3a3a" stroke-width="0.7"/><circle cx="50.1" cy="534.1" r="1.65" fill="#d6d6d6" stroke="#3a3a3a" stroke-width="0.7"/><circle cx="72.3" cy="545.5" r="1.49" fill="#d6d6d6" stroke="#3a3a3a" stroke-width="0.7"/><circle cx="50.9" cy="534.9" r="1.62" fill="#a8a8a8" stroke="#3a3a3a" stroke-width="0.7"/><circle cx="69.8" cy="542.0" r="1.77" fill="#a2a2a2" stroke="#3a3a3a" stroke-width="0.7"/><circle cx="64.3" cy="543.7" r="1.37" fill="#c8c8c8" stroke="#3a3a3a" stroke-width="0.7"/><circle cx="74.6" cy="540.8" r="1.47" fill="#a2a2a2" stroke="#3a3a3a" stroke-width="0.7"/><circle cx="58.0" cy="544.1" r="1.58" fill="#c8c8c8" stroke="#3a3a3a" stroke-width="0.7"/><circle cx="55.5" cy="534.5" r="1.43" fill="#a8a8a8" stroke="#3a3a3a" stroke-width="0.7"/><circle cx="79.4" cy="533.4" r="1.71" fill="#d6d6d6" stroke="#3a3a3a" stroke-width="0.7"/><circle cx="81.4" cy="534.6" r="1.40" fill="#d6d6d6" stroke="#3a3a3a" stroke-width="0.7"/><circle cx="77.8" cy="534.3" r="1.46" fill="#a2a2a2" stroke="#3a3a3a" stroke-width="0.7"/><circle cx="60.6" cy="539.2" r="1.50" fill="#a8a8a8" stroke="#3a3a3a" stroke-width="0.7"/><circle cx="60.5" cy="529.4" r="1.32" fill="#d6d6d6" stroke="#3a3a3a" stroke-width="0.7"/><circle cx="69.8" cy="541.5" r="1.69" fill="#d6d6d6" stroke="#3a3a3a" stroke-width="0.7"/><circle cx="70.1" cy="540.8" r="1.65" fill="#a8a8a8" stroke="#3a3a3a" stroke-width="0.7"/><circle cx="52.4" cy="541.7" r="1.53" fill="#c8c8c8" stroke="#3a3a3a" stroke-width="0.7"/><circle cx="83.2" cy="541.4" r="1.48" fill="#c8c8c8" stroke="#3a3a3a" stroke-width="0.7"/><circle cx="77.6" cy="539.4" r="1.43" fill="#a2a2a2" stroke="#3a3a3a" stroke-width="0.7"/><circle cx="43.9" cy="539.5" r="1.59" fill="#a8a8a8" stroke="#3a3a3a" stroke-width="0.7"/><circle cx="64.9" cy="538.5" r="1.71" fill="#d6d6d6" stroke="#3a3a3a" stroke-width="0.7"/><circle cx="68.3" cy="547.2" r="1.52" fill="#a8a8a8" stroke="#3a3a3a" stroke-width="0.7"/><circle cx="72.9" cy="540.1" r="1.80" fill="#c8c8c8" stroke="#3a3a3a" stroke-width="0.7"/><circle cx="63.9" cy="536.1" r="1.35" fill="#d6d6d6" stroke="#3a3a3a" stroke-width="0.7"/><circle cx="52.3" cy="530.3" r="1.31" fill="#a8a8a8" stroke="#3a3a3a" stroke-width="0.7"/><circle cx="52.6" cy="529.7" r="1.54" fill="#a2a2a2" stroke="#3a3a3a" stroke-width="0.7"/><circle cx="74.7" cy="532.3" r="1.67" fill="#c8c8c8" stroke="#3a3a3a" stroke-width="0.7"/><circle cx="83.6" cy="535.0" r="1.67" fill="#c8c8c8" stroke="#3a3a3a" stroke-width="0.7"/><circle cx="75.1" cy="528.9" r="1.61" fill="#d6d6d6" stroke="#3a3a3a" stroke-width="0.7"/><circle cx="63.3" cy="547.5" r="1.43" fill="#a8a8a8" stroke="#3a3a3a" stroke-width="0.7"/><circle cx="56.7" cy="543.0" r="1.38" fill="#d6d6d6" stroke="#3a3a3a" stroke-width="0.7"/><circle cx="69.8" cy="534.0" r="1.77" fill="#d6d6d6" stroke="#3a3a3a" stroke-width="0.7"/><circle cx="63.7" cy="530.7" r="1.78" fill="#a8a8a8" stroke="#3a3a3a" stroke-width="0.7"/><circle cx="59.0" cy="541.2" r="1.61" fill="#d6d6d6" stroke="#3a3a3a" stroke-width="0.7"/><circle cx="64.0" cy="544.1" r="1.53" fill="#a2a2a2" stroke="#3a3a3a" stroke-width="0.7"/><circle cx="77.5" cy="539.5" r="1.45" fill="#a8a8a8" stroke="#3a3a3a" stroke-width="0.7"/><circle cx="70.4" cy="541.3" r="1.70" fill="#a2a2a2" stroke="#3a3a3a" stroke-width="0.7"/><circle cx="81.3" cy="543.0" r="1.31" fill="#c8c8c8" stroke="#3a3a3a" stroke-width="0.7"/><circle cx="69.5" cy="533.8" r="1.51" fill="#c8c8c8" stroke="#3a3a3a" stroke-width="0.7"/><circle cx="59.6" cy="542.1" r="1.60" fill="#c8c8c8" stroke="#3a3a3a" stroke-width="0.7"/><circle cx="78.5" cy="533.2" r="1.30" fill="#a2a2a2" stroke="#3a3a3a" stroke-width="0.7"/><circle cx="54.8" cy="530.5" r="1.76" fill="#a8a8a8" stroke="#3a3a3a" stroke-width="0.7"/><circle cx="55.7" cy="530.1" r="1.75" fill="#c8c8c8" stroke="#3a3a3a" stroke-width="0.7"/><circle cx="55.0" cy="545.7" r="1.70" fill="#d6d6d6" stroke="#3a3a3a" stroke-width="0.7"/><circle cx="58.3" cy="528.9" r="1.58" fill="#d6d6d6" stroke="#3a3a3a" stroke-width="0.7"/><circle cx="51.8" cy="543.5" r="1.77" fill="#c8c8c8" stroke="#3a3a3a" stroke-width="0.7"/><circle cx="56.6" cy="528.3" r="1.50" fill="#c8c8c8" stroke="#3a3a3a" stroke-width="0.7"/><circle cx="83.7" cy="539.9" r="1.30" fill="#d6d6d6" stroke="#3a3a3a" stroke-width="0.7"/><circle cx="63.2" cy="528.9" r="1.70" fill="#a8a8a8" stroke="#3a3a3a" stroke-width="0.7"/><circle cx="53.2" cy="539.8" r="1.75" fill="#a2a2a2" stroke="#3a3a3a" stroke-width="0.7"/><circle cx="64.0" cy="540.0" r="1.39" fill="#c8c8c8" stroke="#3a3a3a" stroke-width="0.7"/><circle cx="55.8" cy="539.7" r="1.48" fill="#c8c8c8" stroke="#3a3a3a" stroke-width="0.7"/><circle cx="53.8" cy="547.3" r="1.55" fill="#a8a8a8" stroke="#3a3a3a" stroke-width="0.7"/><circle cx="59.4" cy="537.2" r="1.34" fill="#a2a2a2" stroke="#3a3a3a" stroke-width="0.7"/><circle cx="69.3" cy="534.6" r="1.56" fill="#a8a8a8" stroke="#3a3a3a" stroke-width="0.7"/><circle cx="81.3" cy="539.4" r="1.59" fill="#c8c8c8" stroke="#3a3a3a" stroke-width="0.7"/><circle cx="54.5" cy="544.1" r="1.51" fill="#d6d6d6" stroke="#3a3a3a" stroke-width="0.7"/><circle cx="76.8" cy="545.0" r="1.78" fill="#a2a2a2" stroke="#3a3a3a" stroke-width="0.7"/><circle cx="80.1" cy="534.5" r="1.80" fill="#d6d6d6" stroke="#3a3a3a" stroke-width="0.7"/><circle cx="67.5" cy="546.2" r="1.53" fill="#a8a8a8" stroke="#3a3a3a" stroke-width="0.7"/><circle cx="81.0" cy="541.1" r="1.76" fill="#a8a8a8" stroke="#3a3a3a" stroke-width="0.7"/><circle cx="54.3" cy="539.4" r="1.62" fill="#d6d6d6" stroke="#3a3a3a" stroke-width="0.7"/><circle cx="51.0" cy="545.7" r="1.49" fill="#c8c8c8" stroke="#3a3a3a" stroke-width="0.7"/><circle cx="58.5" cy="546.9" r="1.75" fill="#a8a8a8" stroke="#3a3a3a" stroke-width="0.7"/><circle cx="54.3" cy="538.3" r="1.67" fill="#d6d6d6" stroke="#3a3a3a" stroke-width="0.7"/><circle cx="72.8" cy="533.6" r="1.60" fill="#a8a8a8" stroke="#3a3a3a" stroke-width="0.7"/><circle cx="63.7" cy="535.2" r="1.50" fill="#a2a2a2" stroke="#3a3a3a" stroke-width="0.7"/><circle cx="64.2" cy="530.7" r="1.42" fill="#c8c8c8" stroke="#3a3a3a" stroke-width="0.7"/><circle cx="63.6" cy="547.1" r="1.70" fill="#c8c8c8" stroke="#3a3a3a" stroke-width="0.7"/><circle cx="62.7" cy="529.1" r="1.76" fill="#a8a8a8" stroke="#3a3a3a" stroke-width="0.7"/><circle cx="70.6" cy="537.0" r="1.47" fill="#c8c8c8" stroke="#3a3a3a" stroke-width="0.7"/><circle cx="64.0" cy="540.8" r="1.37" fill="#c8c8c8" stroke="#3a3a3a" stroke-width="0.7"/><circle cx="75.4" cy="531.0" r="1.53" fill="#c8c8c8" stroke="#3a3a3a" stroke-width="0.7"/><circle cx="62.3" cy="530.3" r="1.51" fill="#c8c8c8" stroke="#3a3a3a" stroke-width="0.7"/><circle cx="49.9" cy="533.0" r="1.72" fill="#a2a2a2" stroke="#3a3a3a" stroke-width="0.7"/><circle cx="78.4" cy="532.7" r="1.35" fill="#d6d6d6" stroke="#3a3a3a" stroke-width="0.7"/><circle cx="82.4" cy="541.7" r="1.41" fill="#d6d6d6" stroke="#3a3a3a" stroke-width="0.7"/><circle cx="62.0" cy="532.8" r="1.42" fill="#c8c8c8" stroke="#3a3a3a" stroke-width="0.7"/><circle cx="47.3" cy="533.4" r="1.75" fill="#a8a8a8" stroke="#3a3a3a" stroke-width="0.7"/><circle cx="49.4" cy="541.1" r="1.52" fill="#a2a2a2" stroke="#3a3a3a" stroke-width="0.7"/><circle cx="65.5" cy="536.7" r="1.69" fill="#a2a2a2" stroke="#3a3a3a" stroke-width="0.7"/><circle cx="51.2" cy="536.6" r="1.76" fill="#c8c8c8" stroke="#3a3a3a" stroke-width="0.7"/><circle cx="55.2" cy="531.0" r="1.72" fill="#c8c8c8" stroke="#3a3a3a" stroke-width="0.7"/><circle cx="74.3" cy="531.3" r="1.34" fill="#a8a8a8" stroke="#3a3a3a" stroke-width="0.7"/><circle cx="82.1" cy="543.1" r="1.68" fill="#c8c8c8" stroke="#3a3a3a" stroke-width="0.7"/><circle cx="52.1" cy="540.5" r="1.65" fill="#c8c8c8" stroke="#3a3a3a" stroke-width="0.7"/><circle cx="68.6" cy="531.5" r="1.33" fill="#d6d6d6" stroke="#3a3a3a" stroke-width="0.7"/><circle cx="65.8" cy="534.6" r="1.44" fill="#d6d6d6" stroke="#3a3a3a" stroke-width="0.7"/><circle cx="47.0" cy="536.0" r="1.68" fill="#c8c8c8" stroke="#3a3a3a" stroke-width="0.7"/><circle cx="52.2" cy="544.8" r="1.39" fill="#a2a2a2" stroke="#3a3a3a" stroke-width="0.7"/><circle cx="45.6" cy="555.4" r="1.48" fill="#d6d6d6" stroke="#3a3a3a" stroke-width="0.7"/><circle cx="40.8" cy="544.4" r="1.72" fill="#a2a2a2" stroke="#3a3a3a" stroke-width="0.7"/><circle cx="50.1" cy="555.6" r="1.59" fill="#a8a8a8" stroke="#3a3a3a" stroke-width="0.7"/><circle cx="39.4" cy="541.9" r="1.67" fill="#d6d6d6" stroke="#3a3a3a" stroke-width="0.7"/><circle cx="44.3" cy="549.5" r="1.57" fill="#a8a8a8" stroke="#3a3a3a" stroke-width="0.7"/><circle cx="38.4" cy="541.6" r="1.61" fill="#c8c8c8" stroke="#3a3a3a" stroke-width="0.7"/><circle cx="35.3" cy="544.5" r="1.71" fill="#a8a8a8" stroke="#3a3a3a" stroke-width="0.7"/><circle cx="49.3" cy="544.7" r="1.72" fill="#d6d6d6" stroke="#3a3a3a" stroke-width="0.7"/><circle cx="44.5" cy="552.6" r="1.35" fill="#a8a8a8" stroke="#3a3a3a" stroke-width="0.7"/><circle cx="35.7" cy="548.9" r="1.55" fill="#a2a2a2" stroke="#3a3a3a" stroke-width="0.7"/><circle cx="52.5" cy="549.7" r="1.41" fill="#c8c8c8" stroke="#3a3a3a" stroke-width="0.7"/><circle cx="36.2" cy="550.3" r="1.67" fill="#c8c8c8" stroke="#3a3a3a" stroke-width="0.7"/><circle cx="47.0" cy="552.5" r="1.60" fill="#a8a8a8" stroke="#3a3a3a" stroke-width="0.7"/><circle cx="41.7" cy="556.9" r="1.69" fill="#a2a2a2" stroke="#3a3a3a" stroke-width="0.7"/><circle cx="41.8" cy="555.1" r="1.66" fill="#a2a2a2" stroke="#3a3a3a" stroke-width="0.7"/><circle cx="50.9" cy="555.3" r="1.33" fill="#c8c8c8" stroke="#3a3a3a" stroke-width="0.7"/><circle cx="38.5" cy="547.6" r="1.62" fill="#a2a2a2" stroke="#3a3a3a" stroke-width="0.7"/><circle cx="40.1" cy="543.6" r="1.63" fill="#c8c8c8" stroke="#3a3a3a" stroke-width="0.7"/><circle cx="46.9" cy="554.6" r="1.74" fill="#a8a8a8" stroke="#3a3a3a" stroke-width="0.7"/><circle cx="33.8" cy="551.5" r="1.43" fill="#a2a2a2" stroke="#3a3a3a" stroke-width="0.7"/><circle cx="46.8" cy="554.5" r="1.32" fill="#a8a8a8" stroke="#3a3a3a" stroke-width="0.7"/><circle cx="38.5" cy="549.4" r="1.52" fill="#a8a8a8" stroke="#3a3a3a" stroke-width="0.7"/><circle cx="39.3" cy="545.5" r="1.62" fill="#a8a8a8" stroke="#3a3a3a" stroke-width="0.7"/><circle cx="34.9" cy="550.6" r="1.77" fill="#d6d6d6" stroke="#3a3a3a" stroke-width="0.7"/><circle cx="39.5" cy="547.3" r="1.44" fill="#c8c8c8" stroke="#3a3a3a" stroke-width="0.7"/><circle cx="49.2" cy="553.3" r="1.44" fill="#d6d6d6" stroke="#3a3a3a" stroke-width="0.7"/><circle cx="46.4" cy="550.3" r="1.63" fill="#c8c8c8" stroke="#3a3a3a" stroke-width="0.7"/><circle cx="45.1" cy="546.6" r="1.75" fill="#a2a2a2" stroke="#3a3a3a" stroke-width="0.7"/><circle cx="46.5" cy="548.4" r="1.46" fill="#c8c8c8" stroke="#3a3a3a" stroke-width="0.7"/><circle cx="40.3" cy="543.4" r="1.57" fill="#d6d6d6" stroke="#3a3a3a" stroke-width="0.7"/><circle cx="52.0" cy="544.3" r="1.58" fill="#d6d6d6" stroke="#3a3a3a" stroke-width="0.7"/><circle cx="38.9" cy="555.8" r="1.41" fill="#a8a8a8" stroke="#3a3a3a" stroke-width="0.7"/><circle cx="50.0" cy="542.9" r="1.33" fill="#a2a2a2" stroke="#3a3a3a" stroke-width="0.7"/><circle cx="42.7" cy="541.1" r="1.49" fill="#d6d6d6" stroke="#3a3a3a" stroke-width="0.7"/><circle cx="40.8" cy="553.7" r="1.56" fill="#c8c8c8" stroke="#3a3a3a" stroke-width="0.7"/><circle cx="42.2" cy="552.0" r="1.37" fill="#c8c8c8" stroke="#3a3a3a" stroke-width="0.7"/><circle cx="46.6" cy="555.3" r="1.71" fill="#a8a8a8" stroke="#3a3a3a" stroke-width="0.7"/><circle cx="49.3" cy="553.4" r="1.68" fill="#d6d6d6" stroke="#3a3a3a" stroke-width="0.7"/><circle cx="38.9" cy="551.4" r="1.62" fill="#c8c8c8" stroke="#3a3a3a" stroke-width="0.7"/><circle cx="42.1" cy="541.9" r="1.51" fill="#a8a8a8" stroke="#3a3a3a" stroke-width="0.7"/><circle cx="44.0" cy="557.3" r="1.59" fill="#d6d6d6" stroke="#3a3a3a" stroke-width="0.7"/><circle cx="51.7" cy="545.0" r="1.61" fill="#a8a8a8" stroke="#3a3a3a" stroke-width="0.7"/><circle cx="41.4" cy="548.1" r="1.53" fill="#a2a2a2" stroke="#3a3a3a" stroke-width="0.7"/><circle cx="39.4" cy="547.0" r="1.58" fill="#d6d6d6" stroke="#3a3a3a" stroke-width="0.7"/><circle cx="41.4" cy="545.4" r="1.57" fill="#c8c8c8" stroke="#3a3a3a" stroke-width="0.7"/><circle cx="42.6" cy="546.8" r="1.42" fill="#a2a2a2" stroke="#3a3a3a" stroke-width="0.7"/><circle cx="40.1" cy="555.2" r="1.72" fill="#a2a2a2" stroke="#3a3a3a" stroke-width="0.7"/><circle cx="37.5" cy="547.7" r="1.76" fill="#a8a8a8" stroke="#3a3a3a" stroke-width="0.7"/><circle cx="52.7" cy="545.4" r="1.57" fill="#a2a2a2" stroke="#3a3a3a" stroke-width="0.7"/><circle cx="44.8" cy="558.0" r="1.56" fill="#d6d6d6" stroke="#3a3a3a" stroke-width="0.7"/><circle cx="41.6" cy="546.4" r="1.60" fill="#a2a2a2" stroke="#3a3a3a" stroke-width="0.7"/><circle cx="43.0" cy="540.2" r="1.33" fill="#c8c8c8" stroke="#3a3a3a" stroke-width="0.7"/><circle cx="35.2" cy="546.7" r="1.50" fill="#c8c8c8" stroke="#3a3a3a" stroke-width="0.7"/><circle cx="43.7" cy="547.9" r="1.61" fill="#a2a2a2" stroke="#3a3a3a" stroke-width="0.7"/><circle cx="48.2" cy="553.4" r="1.35" fill="#a2a2a2" stroke="#3a3a3a" stroke-width="0.7"/><circle cx="51.2" cy="549.2" r="1.36" fill="#a2a2a2" stroke="#3a3a3a" stroke-width="0.7"/><circle cx="48.2" cy="554.8" r="1.80" fill="#d6d6d6" stroke="#3a3a3a" stroke-width="0.7"/><circle cx="46.9" cy="549.4" r="1.71" fill="#c8c8c8" stroke="#3a3a3a" stroke-width="0.7"/><circle cx="44.1" cy="543.4" r="1.39" fill="#a8a8a8" stroke="#3a3a3a" stroke-width="0.7"/><circle cx="91.5" cy="546.5" r="1.51" fill="#a8a8a8" stroke="#3a3a3a" stroke-width="0.7"/><circle cx="83.0" cy="554.3" r="1.30" fill="#a2a2a2" stroke="#3a3a3a" stroke-width="0.7"/><circle cx="85.3" cy="547.2" r="1.31" fill="#a8a8a8" stroke="#3a3a3a" stroke-width="0.7"/><circle cx="80.1" cy="552.0" r="1.58" fill="#a2a2a2" stroke="#3a3a3a" stroke-width="0.7"/><circle cx="88.4" cy="547.7" r="1.40" fill="#a8a8a8" stroke="#3a3a3a" stroke-width="0.7"/><circle cx="78.8" cy="552.2" r="1.55" fill="#a8a8a8" stroke="#3a3a3a" stroke-width="0.7"/><circle cx="88.6" cy="555.9" r="1.61" fill="#a8a8a8" stroke="#3a3a3a" stroke-width="0.7"/><circle cx="91.9" cy="554.2" r="1.59" fill="#c8c8c8" stroke="#3a3a3a" stroke-width="0.7"/><circle cx="93.6" cy="550.2" r="1.38" fill="#a2a2a2" stroke="#3a3a3a" stroke-width="0.7"/><circle cx="91.3" cy="556.3" r="1.77" fill="#a8a8a8" stroke="#3a3a3a" stroke-width="0.7"/><circle cx="84.1" cy="551.4" r="1.49" fill="#a8a8a8" stroke="#3a3a3a" stroke-width="0.7"/><circle cx="80.7" cy="550.8" r="1.68" fill="#a8a8a8" stroke="#3a3a3a" stroke-width="0.7"/><circle cx="86.4" cy="553.4" r="1.42" fill="#a8a8a8" stroke="#3a3a3a" stroke-width="0.7"/><circle cx="79.1" cy="553.0" r="1.39" fill="#a8a8a8" stroke="#3a3a3a" stroke-width="0.7"/><circle cx="82.9" cy="553.2" r="1.78" fill="#d6d6d6" stroke="#3a3a3a" stroke-width="0.7"/><circle cx="92.6" cy="554.1" r="1.59" fill="#d6d6d6" stroke="#3a3a3a" stroke-width="0.7"/><circle cx="83.0" cy="556.5" r="1.54" fill="#c8c8c8" stroke="#3a3a3a" stroke-width="0.7"/><circle cx="97.9" cy="550.8" r="1.48" fill="#a2a2a2" stroke="#3a3a3a" stroke-width="0.7"/><circle cx="88.9" cy="550.6" r="1.50" fill="#a8a8a8" stroke="#3a3a3a" stroke-width="0.7"/><circle cx="100.0" cy="551.1" r="1.76" fill="#c8c8c8" stroke="#3a3a3a" stroke-width="0.7"/><circle cx="85.1" cy="551.6" r="1.47" fill="#d6d6d6" stroke="#3a3a3a" stroke-width="0.7"/><circle cx="75.9" cy="554.0" r="1.47" fill="#c8c8c8" stroke="#3a3a3a" stroke-width="0.7"/><circle cx="81.3" cy="547.6" r="1.40" fill="#c8c8c8" stroke="#3a3a3a" stroke-width="0.7"/><circle cx="89.4" cy="551.6" r="1.70" fill="#c8c8c8" stroke="#3a3a3a" stroke-width="0.7"/><circle cx="79.1" cy="550.2" r="1.66" fill="#d6d6d6" stroke="#3a3a3a" stroke-width="0.7"/><circle cx="91.4" cy="553.0" r="1.45" fill="#d6d6d6" stroke="#3a3a3a" stroke-width="0.7"/><circle cx="88.1" cy="548.7" r="1.53" fill="#c8c8c8" stroke="#3a3a3a" stroke-width="0.7"/><circle cx="90.5" cy="551.3" r="1.79" fill="#c8c8c8" stroke="#3a3a3a" stroke-width="0.7"/><circle cx="85.5" cy="552.1" r="1.36" fill="#a8a8a8" stroke="#3a3a3a" stroke-width="0.7"/><circle cx="92.6" cy="547.1" r="1.73" fill="#d6d6d6" stroke="#3a3a3a" stroke-width="0.7"/><circle cx="93.5" cy="554.3" r="1.69" fill="#c8c8c8" stroke="#3a3a3a" stroke-width="0.7"/><circle cx="83.3" cy="554.0" r="1.35" fill="#a2a2a2" stroke="#3a3a3a" stroke-width="0.7"/><circle cx="95.9" cy="555.1" r="1.40" fill="#a2a2a2" stroke="#3a3a3a" stroke-width="0.7"/><circle cx="77.3" cy="549.5" r="1.71" fill="#d6d6d6" stroke="#3a3a3a" stroke-width="0.7"/><circle cx="82.3" cy="550.8" r="1.75" fill="#c8c8c8" stroke="#3a3a3a" stroke-width="0.7"/><circle cx="84.5" cy="555.6" r="1.65" fill="#d6d6d6" stroke="#3a3a3a" stroke-width="0.7"/><circle cx="85.4" cy="556.9" r="1.35" fill="#a2a2a2" stroke="#3a3a3a" stroke-width="0.7"/><circle cx="94.1" cy="554.6" r="1.32" fill="#a8a8a8" stroke="#3a3a3a" stroke-width="0.7"/><circle cx="90.8" cy="551.2" r="1.68" fill="#c8c8c8" stroke="#3a3a3a" stroke-width="0.7"/><circle cx="84.9" cy="546.5" r="1.46" fill="#c8c8c8" stroke="#3a3a3a" stroke-width="0.7"/><circle cx="63.0" cy="521.3" r="1.55" fill="#a2a2a2" stroke="#3a3a3a" stroke-width="0.7"/><circle cx="68.8" cy="525.7" r="1.59" fill="#a8a8a8" stroke="#3a3a3a" stroke-width="0.7"/><circle cx="55.8" cy="526.6" r="1.63" fill="#a8a8a8" stroke="#3a3a3a" stroke-width="0.7"/><circle cx="68.0" cy="524.9" r="1.65" fill="#c8c8c8" stroke="#3a3a3a" stroke-width="0.7"/><circle cx="64.9" cy="519.4" r="1.46" fill="#a2a2a2" stroke="#3a3a3a" stroke-width="0.7"/><circle cx="66.0" cy="519.9" r="1.65" fill="#d6d6d6" stroke="#3a3a3a" stroke-width="0.7"/><circle cx="57.5" cy="524.3" r="1.47" fill="#d6d6d6" stroke="#3a3a3a" stroke-width="0.7"/><circle cx="61.1" cy="522.4" r="1.55" fill="#d6d6d6" stroke="#3a3a3a" stroke-width="0.7"/><circle cx="62.1" cy="525.8" r="1.40" fill="#c8c8c8" stroke="#3a3a3a" stroke-width="0.7"/><circle cx="61.8" cy="520.9" r="1.78" fill="#a2a2a2" stroke="#3a3a3a" stroke-width="0.7"/><circle cx="56.8" cy="520.6" r="1.69" fill="#c8c8c8" stroke="#3a3a3a" stroke-width="0.7"/><circle cx="62.7" cy="521.5" r="1.33" fill="#a2a2a2" stroke="#3a3a3a" stroke-width="0.7"/><circle cx="59.6" cy="519.9" r="1.62" fill="#c8c8c8" stroke="#3a3a3a" stroke-width="0.7"/><circle cx="56.2" cy="526.1" r="1.64" fill="#c8c8c8" stroke="#3a3a3a" stroke-width="0.7"/><circle cx="65.1" cy="520.3" r="1.62" fill="#a2a2a2" stroke="#3a3a3a" stroke-width="0.7"/><circle cx="56.1" cy="526.1" r="1.59" fill="#c8c8c8" stroke="#3a3a3a" stroke-width="0.7"/><circle cx="59.3" cy="527.2" r="1.57" fill="#c8c8c8" stroke="#3a3a3a" stroke-width="0.7"/><circle cx="64.8" cy="520.5" r="1.79" fill="#d6d6d6" stroke="#3a3a3a" stroke-width="0.7"/><circle cx="58.6" cy="522.6" r="1.40" fill="#a8a8a8" stroke="#3a3a3a" stroke-width="0.7"/><circle cx="68.3" cy="522.0" r="1.36" fill="#a2a2a2" stroke="#3a3a3a" stroke-width="0.7"/><circle cx="61.2" cy="520.1" r="1.46" fill="#d6d6d6" stroke="#3a3a3a" stroke-width="0.7"/><circle cx="63.1" cy="521.9" r="1.58" fill="#a8a8a8" stroke="#3a3a3a" stroke-width="0.7"/><circle cx="43.0" cy="531.0" r="1.66" fill="#a2a2a2" stroke="#3a3a3a" stroke-width="0.7"/><circle cx="35.3" cy="535.9" r="1.52" fill="#c8c8c8" stroke="#3a3a3a" stroke-width="0.7"/><circle cx="43.4" cy="533.9" r="1.48" fill="#a8a8a8" stroke="#3a3a3a" stroke-width="0.7"/><circle cx="41.7" cy="537.5" r="1.77" fill="#a2a2a2" stroke="#3a3a3a" stroke-width="0.7"/><circle cx="41.8" cy="530.9" r="1.67" fill="#a8a8a8" stroke="#3a3a3a" stroke-width="0.7"/><circle cx="43.3" cy="540.1" r="1.45" fill="#c8c8c8" stroke="#3a3a3a" stroke-width="0.7"/><circle cx="45.5" cy="536.3" r="1.75" fill="#c8c8c8" stroke="#3a3a3a" stroke-width="0.7"/><circle cx="35.2" cy="538.6" r="1.46" fill="#a2a2a2" stroke="#3a3a3a" stroke-width="0.7"/><circle cx="38.6" cy="537.8" r="1.48" fill="#c8c8c8" stroke="#3a3a3a" stroke-width="0.7"/><circle cx="38.4" cy="536.6" r="1.48" fill="#a2a2a2" stroke="#3a3a3a" stroke-width="0.7"/><circle cx="40.8" cy="537.5" r="1.71" fill="#d6d6d6" stroke="#3a3a3a" stroke-width="0.7"/><circle cx="39.9" cy="536.0" r="1.38" fill="#a2a2a2" stroke="#3a3a3a" stroke-width="0.7"/><circle cx="41.2" cy="537.5" r="1.37" fill="#c8c8c8" stroke="#3a3a3a" stroke-width="0.7"/><circle cx="36.0" cy="535.3" r="1.78" fill="#a8a8a8" stroke="#3a3a3a" stroke-width="0.7"/><circle cx="39.8" cy="532.6" r="1.49" fill="#a8a8a8" stroke="#3a3a3a" stroke-width="0.7"/><circle cx="44.1" cy="540.3" r="1.69" fill="#d6d6d6" stroke="#3a3a3a" stroke-width="0.7"/><circle cx="34.3" cy="520.5" r="1.75" fill="#a8a8a8" stroke="#3a3a3a" stroke-width="0.7"/><circle cx="43.5" cy="520.0" r="1.71" fill="#c8c8c8" stroke="#3a3a3a" stroke-width="0.7"/><circle cx="52.3" cy="520.1" r="1.58" fill="#d6d6d6" stroke="#3a3a3a" stroke-width="0.7"/><circle cx="35.0" cy="515.9" r="1.53" fill="#c8c8c8" stroke="#3a3a3a" stroke-width="0.7"/><circle cx="47.9" cy="521.7" r="1.33" fill="#a2a2a2" stroke="#3a3a3a" stroke-width="0.7"/><circle cx="47.6" cy="515.6" r="1.59" fill="#a2a2a2" stroke="#3a3a3a" stroke-width="0.7"/><circle cx="44.5" cy="519.8" r="1.45" fill="#a2a2a2" stroke="#3a3a3a" stroke-width="0.7"/><circle cx="45.7" cy="519.6" r="1.72" fill="#c8c8c8" stroke="#3a3a3a" stroke-width="0.7"/><circle cx="49.3" cy="517.4" r="1.34" fill="#a2a2a2" stroke="#3a3a3a" stroke-width="0.7"/><circle cx="46.3" cy="523.3" r="1.48" fill="#c8c8c8" stroke="#3a3a3a" stroke-width="0.7"/><circle cx="46.6" cy="516.8" r="1.36" fill="#c8c8c8" stroke="#3a3a3a" stroke-width="0.7"/><circle cx="51.0" cy="514.7" r="1.72" fill="#a8a8a8" stroke="#3a3a3a" stroke-width="0.7"/><circle cx="37.5" cy="520.0" r="1.65" fill="#c8c8c8" stroke="#3a3a3a" stroke-width="0.7"/><circle cx="46.3" cy="514.7" r="1.59" fill="#a8a8a8" stroke="#3a3a3a" stroke-width="0.7"/><circle cx="50.7" cy="522.9" r="1.58" fill="#d6d6d6" stroke="#3a3a3a" stroke-width="0.7"/><circle cx="49.3" cy="521.6" r="1.37" fill="#a8a8a8" stroke="#3a3a3a" stroke-width="0.7"/><circle cx="48.0" cy="523.5" r="1.56" fill="#d6d6d6" stroke="#3a3a3a" stroke-width="0.7"/><circle cx="52.9" cy="516.7" r="1.39" fill="#c8c8c8" stroke="#3a3a3a" stroke-width="0.7"/><circle cx="96.0" cy="543.3" r="1.37" fill="#a8a8a8" stroke="#3a3a3a" stroke-width="0.7"/><circle cx="93.5" cy="534.6" r="1.32" fill="#c8c8c8" stroke="#3a3a3a" stroke-width="0.7"/><circle cx="94.4" cy="535.4" r="1.37" fill="#a8a8a8" stroke="#3a3a3a" stroke-width="0.7"/><circle cx="96.9" cy="544.5" r="1.58" fill="#a2a2a2" stroke="#3a3a3a" stroke-width="0.7"/><circle cx="89.7" cy="542.9" r="1.47" fill="#a8a8a8" stroke="#3a3a3a" stroke-width="0.7"/><circle cx="100.2" cy="535.5" r="1.49" fill="#a2a2a2" stroke="#3a3a3a" stroke-width="0.7"/><circle cx="96.7" cy="535.2" r="1.57" fill="#a8a8a8" stroke="#3a3a3a" stroke-width="0.7"/><circle cx="90.9" cy="538.3" r="1.65" fill="#a8a8a8" stroke="#3a3a3a" stroke-width="0.7"/><circle cx="100.4" cy="541.0" r="1.36" fill="#a8a8a8" stroke="#3a3a3a" stroke-width="0.7"/><circle cx="94.8" cy="534.9" r="1.43" fill="#c8c8c8" stroke="#3a3a3a" stroke-width="0.7"/><circle cx="95.9" cy="537.5" r="1.64" fill="#d6d6d6" stroke="#3a3a3a" stroke-width="0.7"/><circle cx="100.4" cy="541.1" r="1.43" fill="#a2a2a2" stroke="#3a3a3a" stroke-width="0.7"/><circle cx="92.5" cy="535.8" r="1.55" fill="#a8a8a8" stroke="#3a3a3a" stroke-width="0.7"/><circle cx="89.9" cy="543.8" r="1.64" fill="#d6d6d6" stroke="#3a3a3a" stroke-width="0.7"/></g>
</g>
<rect x="35.3" y="467.3" width="27" height="18.2" fill="none" stroke="#c8c8c8" stroke-width="1.8"/>
<path d="M35.3 485.5L33.2 511.5M62.3 485.5L101.8 511.5" stroke="#c8c8c8" stroke-width="1.1" fill="none"/>
<rect x="33.2" y="511.8" width="68.8" height="47.4" fill="none" stroke="#c8c8c8" stroke-width="1.8"/>
<rect x="48.2" y="595.7" width="26" height="16.6" fill="none" stroke="#c8c8c8" stroke-width="1.8"/>
<path d="M48.2 612.3L39.2 648.8M74.2 612.3L107.2 648.8" stroke="#c8c8c8" stroke-width="1.1" fill="none"/>
<rect x="39" y="649" width="68" height="46.8" fill="none" stroke="#c8c8c8" stroke-width="1.8"/>
<line x1="79.70" y1="496.20" x2="116.00" y2="496.20" stroke="#e6e6e6" stroke-width="1.6"/>
<line x1="78.80" y1="553.00" x2="98.00" y2="553.00" stroke="#f4f4f4" stroke-width="1.7"/>
<line x1="81.00" y1="632.00" x2="116.50" y2="632.00" stroke="#e6e6e6" stroke-width="1.6"/>
<line x1="86.00" y1="690.30" x2="103.50" y2="690.30" stroke="#f4f4f4" stroke-width="1.7"/>
<text x="23.4" y="436.3" font-size="8.9" fill="#fff" stroke="#fff" stroke-width="0.05">CXCL12<tspan font-size="4.6" dx="1.2" dy="-3.4" fill="#e8e8e8" stroke-width="0">wt/wt</tspan></text>
<text x="24.3" y="573.0" font-size="8.9" fill="#fff" stroke="#fff" stroke-width="0.05">CXCL12<tspan font-size="4.6" dx="1.2" dy="-3.4" fill="#e8e8e8" stroke-width="0">Δplt/Δplt</tspan></text>
<path d="M78.8 523.2L85.2 523.2L82 528.4Z" fill="#fff"/>
<path d="M38.2 539.8L44.8 539.8L41.5 545.2Z" fill="#fff"/>
<path d="M40.9 660L47.2 660.4L44.3 665.6" fill="none" stroke="#fff" stroke-width="1.5" stroke-linejoin="miter"/>
<path d="M60.6 677.3L66.9 677.8L64.4 683.1" fill="none" stroke="#fff" stroke-width="1.5" stroke-linejoin="miter"/>
<text x="158.70" y="425.50" font-size="10.8" text-anchor="start" font-weight="bold" fill="#000" >K</text>
<line x1="206.50" y1="451.50" x2="206.50" y2="588.90" stroke="#222" stroke-width="1.25"/>
<line x1="205.90" y1="588.30" x2="300.00" y2="588.30" stroke="#222" stroke-width="1.25"/>
<line x1="203.50" y1="455.00" x2="206.50" y2="455.00" stroke="#222" stroke-width="1.1"/>
<text transform="translate(200.20,457.95) scale(0.86,1)" font-size="8.5" text-anchor="end" fill="#1c1c1c" stroke="#1c1c1c" stroke-width="0.18">800</text>
<line x1="203.50" y1="488.25" x2="206.50" y2="488.25" stroke="#222" stroke-width="1.1"/>
<text transform="translate(200.20,491.20) scale(0.86,1)" font-size="8.5" text-anchor="end" fill="#1c1c1c" stroke="#1c1c1c" stroke-width="0.18">600</text>
<line x1="203.50" y1="521.50" x2="206.50" y2="521.50" stroke="#222" stroke-width="1.1"/>
<text transform="translate(200.20,524.45) scale(0.86,1)" font-size="8.5" text-anchor="end" fill="#1c1c1c" stroke="#1c1c1c" stroke-width="0.18">400</text>
<line x1="203.50" y1="554.75" x2="206.50" y2="554.75" stroke="#222" stroke-width="1.1"/>
<text transform="translate(200.20,557.70) scale(0.86,1)" font-size="8.5" text-anchor="end" fill="#1c1c1c" stroke="#1c1c1c" stroke-width="0.18">200</text>
<line x1="203.50" y1="588.00" x2="206.50" y2="588.00" stroke="#222" stroke-width="1.1"/>
<text transform="translate(200.20,590.95) scale(0.86,1)" font-size="8.5" text-anchor="end" fill="#1c1c1c" stroke="#1c1c1c" stroke-width="0.18">0</text>
<text transform="translate(171.00,520.00) rotate(-90)" font-size="8.8" text-anchor="middle" fill="#1c1c1c" stroke="#1c1c1c" stroke-width="0.1" textLength="83.8" lengthAdjust="spacingAndGlyphs">Activated integrin αIIbβ3</text>
<text transform="translate(182.00,519.30) rotate(-90)" font-size="8.8" text-anchor="middle" fill="#1c1c1c" stroke="#1c1c1c" stroke-width="0.1" textLength="55.4" lengthAdjust="spacingAndGlyphs">expression [MFI]</text>
<line x1="214.88" y1="534.25" x2="214.88" y2="523.75" stroke="#333" stroke-width="1.0"/>
<line x1="212.88" y1="523.75" x2="216.88" y2="523.75" stroke="#333" stroke-width="1.2"/>
<rect x="211.75" y="534.25" width="6.25" height="53.55" fill="#c8202f" stroke="#a51b29" stroke-width="0.4"/>
<line x1="223.62" y1="539.25" x2="223.62" y2="515.50" stroke="#333" stroke-width="1.0"/>
<line x1="221.62" y1="515.50" x2="225.62" y2="515.50" stroke="#333" stroke-width="1.2"/>
<rect x="220.50" y="539.25" width="6.25" height="48.55" fill="#0e5284" stroke="#0a416b" stroke-width="0.4"/>
<line x1="237.38" y1="520.50" x2="237.38" y2="506.50" stroke="#333" stroke-width="1.0"/>
<line x1="235.38" y1="506.50" x2="239.38" y2="506.50" stroke="#333" stroke-width="1.2"/>
<rect x="234.25" y="520.50" width="6.25" height="67.30" fill="#c8202f" stroke="#a51b29" stroke-width="0.4"/>
<line x1="246.38" y1="535.75" x2="246.38" y2="522.25" stroke="#333" stroke-width="1.0"/>
<line x1="244.38" y1="522.25" x2="248.38" y2="522.25" stroke="#333" stroke-width="1.2"/>
<rect x="243.25" y="535.75" width="6.25" height="52.05" fill="#0e5284" stroke="#0a416b" stroke-width="0.4"/>
<line x1="260.10" y1="508.00" x2="260.10" y2="491.50" stroke="#333" stroke-width="1.0"/>
<line x1="258.10" y1="491.50" x2="262.10" y2="491.50" stroke="#333" stroke-width="1.2"/>
<rect x="257.00" y="508.00" width="6.20" height="79.80" fill="#c8202f" stroke="#a51b29" stroke-width="0.4"/>
<line x1="268.88" y1="523.00" x2="268.88" y2="514.50" stroke="#333" stroke-width="1.0"/>
<line x1="266.88" y1="514.50" x2="270.88" y2="514.50" stroke="#333" stroke-width="1.2"/>
<rect x="265.75" y="523.00" width="6.25" height="64.80" fill="#0e5284" stroke="#0a416b" stroke-width="0.4"/>
<line x1="282.62" y1="489.50" x2="282.62" y2="471.50" stroke="#333" stroke-width="1.0"/>
<line x1="280.62" y1="471.50" x2="284.62" y2="471.50" stroke="#333" stroke-width="1.2"/>
<rect x="279.50" y="489.50" width="6.25" height="98.30" fill="#c8202f" stroke="#a51b29" stroke-width="0.4"/>
<line x1="291.55" y1="511.75" x2="291.55" y2="503.50" stroke="#333" stroke-width="1.0"/>
<line x1="289.55" y1="503.50" x2="293.55" y2="503.50" stroke="#333" stroke-width="1.2"/>
<rect x="288.50" y="511.75" width="6.10" height="76.05" fill="#0e5284" stroke="#0a416b" stroke-width="0.4"/>
<path d="M282.75 459.80V455.50H291.50V459.80" fill="none" stroke="#333" stroke-width="1.2"/>
<polygon points="287.12,448.55 287.65,449.67 288.88,449.83 287.98,450.68 288.21,451.90 287.12,451.30 286.04,451.90 286.27,450.68 285.37,449.83 286.60,449.67" fill="#1a1a1a"/>
<rect x="306.5" y="447.9" width="4.8" height="4.8" fill="#c8202f"/>
<rect x="306.5" y="457.9" width="4.8" height="4.8" fill="#0e5284"/>
<text x="314" y="453" font-size="7.3" fill="#222">CXCL12<tspan font-size="5" dy="-3">wt/wt</tspan></text>
<text x="314" y="463" font-size="7.3" fill="#222">CXCL12<tspan font-size="5" dy="-3">Δplt/Δplt</tspan></text>
<line x1="219.40" y1="588.00" x2="219.40" y2="591.00" stroke="#222" stroke-width="1.0"/>
<text transform="translate(222.00,599.00) rotate(-45)" font-size="8.0" text-anchor="end" fill="#1c1c1c" stroke="#1c1c1c" stroke-width="0.08">Unstimulated</text>
<line x1="241.80" y1="588.00" x2="241.80" y2="591.00" stroke="#222" stroke-width="1.0"/>
<text transform="translate(244.40,599.00) rotate(-45)" font-size="8.0" text-anchor="end" fill="#1c1c1c" stroke="#1c1c1c" stroke-width="0.08">1 μg/mL collagen</text>
<line x1="264.60" y1="588.00" x2="264.60" y2="591.00" stroke="#222" stroke-width="1.0"/>
<text transform="translate(267.20,599.00) rotate(-45)" font-size="8.0" text-anchor="end" fill="#1c1c1c" stroke="#1c1c1c" stroke-width="0.08">5 μg/mL collagen</text>
<line x1="287.00" y1="588.00" x2="287.00" y2="591.00" stroke="#222" stroke-width="1.0"/>
<text transform="translate(289.60,599.00) rotate(-45)" font-size="8.0" text-anchor="end" fill="#1c1c1c" stroke="#1c1c1c" stroke-width="0.08">10 μg/mL collagen</text>
<text x="382.70" y="425.40" font-size="10.8" text-anchor="start" font-weight="bold" fill="#000" >L</text>
<line x1="420.50" y1="451.50" x2="420.50" y2="588.90" stroke="#222" stroke-width="1.25"/>
<line x1="419.90" y1="588.30" x2="513.50" y2="588.30" stroke="#222" stroke-width="1.25"/>
<line x1="417.50" y1="455.50" x2="420.50" y2="455.50" stroke="#222" stroke-width="1.1"/>
<text transform="translate(414.20,458.45) scale(0.86,1)" font-size="8.5" text-anchor="end" fill="#1c1c1c" stroke="#1c1c1c" stroke-width="0.18">600</text>
<line x1="417.50" y1="499.63" x2="420.50" y2="499.63" stroke="#222" stroke-width="1.1"/>
<text transform="translate(414.20,502.58) scale(0.86,1)" font-size="8.5" text-anchor="end" fill="#1c1c1c" stroke="#1c1c1c" stroke-width="0.18">400</text>
<line x1="417.50" y1="543.77" x2="420.50" y2="543.77" stroke="#222" stroke-width="1.1"/>
<text transform="translate(414.20,546.72) scale(0.86,1)" font-size="8.5" text-anchor="end" fill="#1c1c1c" stroke="#1c1c1c" stroke-width="0.18">200</text>
<line x1="417.50" y1="587.90" x2="420.50" y2="587.90" stroke="#222" stroke-width="1.1"/>
<text transform="translate(414.20,590.85) scale(0.86,1)" font-size="8.5" text-anchor="end" fill="#1c1c1c" stroke="#1c1c1c" stroke-width="0.18">0</text>
<text transform="translate(393.60,519.00) rotate(-90)" font-size="8.8" text-anchor="middle" fill="#1c1c1c" stroke="#1c1c1c" stroke-width="0.1" textLength="88.5" lengthAdjust="spacingAndGlyphs">P-selectin expression [MFI]</text>
<line x1="428.38" y1="572.00" x2="428.38" y2="569.50" stroke="#333" stroke-width="1.0"/>
<line x1="426.38" y1="569.50" x2="430.38" y2="569.50" stroke="#333" stroke-width="1.2"/>
<rect x="425.25" y="572.00" width="6.25" height="15.80" fill="#c8202f" stroke="#a51b29" stroke-width="0.4"/>
<line x1="437.25" y1="571.25" x2="437.25" y2="566.50" stroke="#333" stroke-width="1.0"/>
<line x1="435.25" y1="566.50" x2="439.25" y2="566.50" stroke="#333" stroke-width="1.2"/>
<rect x="434.25" y="571.25" width="6.00" height="16.55" fill="#0e5284" stroke="#0a416b" stroke-width="0.4"/>
<line x1="451.00" y1="552.50" x2="451.00" y2="521.75" stroke="#333" stroke-width="1.0"/>
<line x1="449.00" y1="521.75" x2="453.00" y2="521.75" stroke="#333" stroke-width="1.2"/>
<rect x="448.00" y="552.50" width="6.00" height="35.30" fill="#c8202f" stroke="#a51b29" stroke-width="0.4"/>
<line x1="460.00" y1="571.25" x2="460.00" y2="566.50" stroke="#333" stroke-width="1.0"/>
<line x1="458.00" y1="566.50" x2="462.00" y2="566.50" stroke="#333" stroke-width="1.2"/>
<rect x="457.00" y="571.25" width="6.00" height="16.55" fill="#0e5284" stroke="#0a416b" stroke-width="0.4"/>
<line x1="473.62" y1="534.00" x2="473.62" y2="498.50" stroke="#333" stroke-width="1.0"/>
<line x1="471.62" y1="498.50" x2="475.62" y2="498.50" stroke="#333" stroke-width="1.2"/>
<rect x="470.50" y="534.00" width="6.25" height="53.80" fill="#c8202f" stroke="#a51b29" stroke-width="0.4"/>
<line x1="482.62" y1="546.25" x2="482.62" y2="534.00" stroke="#333" stroke-width="1.0"/>
<line x1="480.62" y1="534.00" x2="484.62" y2="534.00" stroke="#333" stroke-width="1.2"/>
<rect x="479.50" y="546.25" width="6.25" height="41.55" fill="#0e5284" stroke="#0a416b" stroke-width="0.4"/>
<line x1="496.38" y1="495.75" x2="496.38" y2="474.50" stroke="#333" stroke-width="1.0"/>
<line x1="494.38" y1="474.50" x2="498.38" y2="474.50" stroke="#333" stroke-width="1.2"/>
<rect x="493.25" y="495.75" width="6.25" height="92.05" fill="#c8202f" stroke="#a51b29" stroke-width="0.4"/>
<line x1="505.12" y1="526.75" x2="505.12" y2="510.50" stroke="#333" stroke-width="1.0"/>
<line x1="503.12" y1="510.50" x2="507.12" y2="510.50" stroke="#333" stroke-width="1.2"/>
<rect x="502.00" y="526.75" width="6.25" height="61.05" fill="#0e5284" stroke="#0a416b" stroke-width="0.4"/>
<path d="M496.25 460.10V455.80H505.25V460.10" fill="none" stroke="#333" stroke-width="1.2"/>
<polygon points="500.75,448.55 501.28,449.67 502.51,449.83 501.61,450.68 501.84,451.90 500.75,451.30 499.66,451.90 499.89,450.68 498.99,449.83 500.22,449.67" fill="#1a1a1a"/>
<line x1="432.50" y1="587.90" x2="432.50" y2="591.00" stroke="#222" stroke-width="1.0"/>
<text transform="translate(435.10,599.00) rotate(-45)" font-size="8.0" text-anchor="end" fill="#1c1c1c" stroke="#1c1c1c" stroke-width="0.08">Unstimulated</text>
<line x1="455.30" y1="587.90" x2="455.30" y2="591.00" stroke="#222" stroke-width="1.0"/>
<text transform="translate(457.90,599.00) rotate(-45)" font-size="8.0" text-anchor="end" fill="#1c1c1c" stroke="#1c1c1c" stroke-width="0.08">1 μg/mL collagen</text>
<line x1="478.00" y1="587.90" x2="478.00" y2="591.00" stroke="#222" stroke-width="1.0"/>
<text transform="translate(480.60,599.00) rotate(-45)" font-size="8.0" text-anchor="end" fill="#1c1c1c" stroke="#1c1c1c" stroke-width="0.08">5 μg/mL collagen</text>
<line x1="500.50" y1="587.90" x2="500.50" y2="591.00" stroke="#222" stroke-width="1.0"/>
<text transform="translate(503.10,599.00) rotate(-45)" font-size="8.0" text-anchor="end" fill="#1c1c1c" stroke="#1c1c1c" stroke-width="0.08">10 μg/mL collagen</text>
<circle cx="52.40" cy="52.00" r="1.72" fill="#c8202f"/>
<circle cx="55.50" cy="52.00" r="1.72" fill="#c8202f"/>
<circle cx="58.60" cy="52.00" r="1.72" fill="#c8202f"/>
<circle cx="55.30" cy="61.70" r="1.72" fill="#c8202f"/>
<circle cx="55.30" cy="93.70" r="1.72" fill="#c8202f"/>
<circle cx="52.10" cy="101.10" r="1.72" fill="#c8202f"/>
<circle cx="54.10" cy="99.60" r="1.72" fill="#c8202f"/>
<circle cx="56.70" cy="99.60" r="1.72" fill="#c8202f"/>
<circle cx="58.80" cy="98.60" r="1.72" fill="#c8202f"/>
<circle cx="46.60" cy="118.20" r="1.72" fill="#c8202f"/>
<circle cx="48.90" cy="121.00" r="1.72" fill="#c8202f"/>
<circle cx="51.20" cy="119.00" r="1.72" fill="#c8202f"/>
<circle cx="53.30" cy="121.00" r="1.72" fill="#c8202f"/>
<circle cx="55.30" cy="118.20" r="1.72" fill="#c8202f"/>
<circle cx="55.30" cy="120.80" r="1.72" fill="#c8202f"/>
<circle cx="57.50" cy="119.40" r="1.72" fill="#c8202f"/>
<circle cx="59.60" cy="119.60" r="1.72" fill="#c8202f"/>
<circle cx="61.90" cy="115.90" r="1.72" fill="#c8202f"/>
<circle cx="61.90" cy="119.60" r="1.72" fill="#c8202f"/>
<circle cx="64.00" cy="121.00" r="1.72" fill="#c8202f"/>
<circle cx="53.00" cy="124.60" r="1.72" fill="#c8202f"/>
<circle cx="57.50" cy="123.30" r="1.72" fill="#c8202f"/>
<path d="M77.40 49.70L79.70 52.00L77.40 54.30L75.10 52.00Z" fill="#0e5284"/>
<path d="M79.85 49.70L82.15 52.00L79.85 54.30L77.55 52.00Z" fill="#0e5284"/>
<path d="M82.30 49.70L84.60 52.00L82.30 54.30L80.00 52.00Z" fill="#0e5284"/>
<path d="M84.75 49.70L87.05 52.00L84.75 54.30L82.45 52.00Z" fill="#0e5284"/>
<path d="M87.20 49.70L89.50 52.00L87.20 54.30L84.90 52.00Z" fill="#0e5284"/>
<path d="M89.65 49.70L91.95 52.00L89.65 54.30L87.35 52.00Z" fill="#0e5284"/>
<path d="M92.10 49.70L94.40 52.00L92.10 54.30L89.80 52.00Z" fill="#0e5284"/>
<path d="M94.55 49.70L96.85 52.00L94.55 54.30L92.25 52.00Z" fill="#0e5284"/>
<path d="M97.00 49.70L99.30 52.00L97.00 54.30L94.70 52.00Z" fill="#0e5284"/>
<path d="M84.00 57.40L86.30 59.70L84.00 62.00L81.70 59.70Z" fill="#0e5284"/>
<path d="M86.40 59.60L88.70 61.90L86.40 64.20L84.10 61.90Z" fill="#0e5284"/>
<path d="M86.20 76.60L88.50 78.90L86.20 81.20L83.90 78.90Z" fill="#0e5284"/>
<path d="M86.20 92.70L88.50 95.00L86.20 97.30L83.90 95.00Z" fill="#0e5284"/>
<path d="M86.20 102.30L88.50 104.60L86.20 106.90L83.90 104.60Z" fill="#0e5284"/>
<path d="M84.60 116.10L86.90 118.40L84.60 120.70L82.30 118.40Z" fill="#0e5284"/>
<path d="M87.60 116.10L89.90 118.40L87.60 120.70L85.30 118.40Z" fill="#0e5284"/>
<path d="M86.20 121.10L88.50 123.40L86.20 125.70L83.90 123.40Z" fill="#0e5284"/>
<circle cx="462.50" cy="45.25" r="1.72" fill="#c8202f"/>
<circle cx="456.50" cy="57.75" r="1.72" fill="#c8202f"/>
<circle cx="462.50" cy="61.25" r="1.72" fill="#c8202f"/>
<circle cx="459.50" cy="92.25" r="1.72" fill="#c8202f"/>
<circle cx="466.00" cy="91.75" r="1.72" fill="#c8202f"/>
<circle cx="462.50" cy="102.00" r="1.72" fill="#c8202f"/>
<circle cx="456.50" cy="121.00" r="1.72" fill="#c8202f"/>
<circle cx="462.50" cy="123.00" r="1.72" fill="#c8202f"/>
<circle cx="456.50" cy="130.25" r="1.72" fill="#c8202f"/>
<circle cx="462.50" cy="129.25" r="1.72" fill="#c8202f"/>
<circle cx="469.00" cy="129.25" r="1.72" fill="#c8202f"/>
<path d="M493.25 36.95L495.55 39.25L493.25 41.55L490.95 39.25Z" fill="#0e5284"/>
<path d="M493.25 83.45L495.55 85.75L493.25 88.05L490.95 85.75Z" fill="#0e5284"/>
<path d="M493.25 105.70L495.55 108.00L493.25 110.30L490.95 108.00Z" fill="#0e5284"/>
<path d="M493.25 112.45L495.55 114.75L493.25 117.05L490.95 114.75Z" fill="#0e5284"/>
<path d="M490.00 119.70L492.30 122.00L490.00 124.30L487.70 122.00Z" fill="#0e5284"/>
<path d="M496.25 117.20L498.55 119.50L496.25 121.80L493.95 119.50Z" fill="#0e5284"/>
<path d="M484.50 122.70L486.80 125.00L484.50 127.30L482.20 125.00Z" fill="#0e5284"/>
<path d="M490.00 125.70L492.30 128.00L490.00 130.30L487.70 128.00Z" fill="#0e5284"/>
<path d="M496.25 124.45L498.55 126.75L496.25 129.05L493.95 126.75Z" fill="#0e5284"/>
<path d="M502.00 125.70L504.30 128.00L502.00 130.30L499.70 128.00Z" fill="#0e5284"/>
<path d="M493.25 133.95L495.55 136.25L493.25 138.55L490.95 136.25Z" fill="#0e5284"/>
<circle cx="59.50" cy="259.40" r="1.72" fill="#c8202f"/>
<circle cx="56.60" cy="269.50" r="1.72" fill="#c8202f"/>
<circle cx="51.00" cy="272.20" r="1.72" fill="#c8202f"/>
<circle cx="56.60" cy="273.60" r="1.72" fill="#c8202f"/>
<circle cx="62.20" cy="274.20" r="1.72" fill="#c8202f"/>
<circle cx="51.00" cy="276.60" r="1.72" fill="#c8202f"/>
<circle cx="68.30" cy="275.30" r="1.72" fill="#c8202f"/>
<circle cx="56.60" cy="279.30" r="1.72" fill="#c8202f"/>
<circle cx="62.20" cy="278.90" r="1.72" fill="#c8202f"/>
<circle cx="56.60" cy="288.40" r="1.72" fill="#c8202f"/>
<circle cx="62.20" cy="288.00" r="1.72" fill="#c8202f"/>
<path d="M90.10 268.60L92.40 270.90L90.10 273.20L87.80 270.90Z" fill="#0e5284"/>
<path d="M83.70 272.20L86.00 274.50L83.70 276.80L81.40 274.50Z" fill="#0e5284"/>
<path d="M90.10 273.00L92.40 275.30L90.10 277.60L87.80 275.30Z" fill="#0e5284"/>
<path d="M96.50 270.30L98.80 272.60L96.50 274.90L94.20 272.60Z" fill="#0e5284"/>
<path d="M83.70 276.60L86.00 278.90L83.70 281.20L81.40 278.90Z" fill="#0e5284"/>
<path d="M90.10 278.00L92.40 280.30L90.10 282.60L87.80 280.30Z" fill="#0e5284"/>
<path d="M96.50 276.00L98.80 278.30L96.50 280.60L94.20 278.30Z" fill="#0e5284"/>
<path d="M90.10 284.70L92.40 287.00L90.10 289.30L87.80 287.00Z" fill="#0e5284"/>
<path d="M83.70 287.80L86.00 290.10L83.70 292.40L81.40 290.10Z" fill="#0e5284"/>
<path d="M90.10 289.20L92.40 291.50L90.10 293.80L87.80 291.50Z" fill="#0e5284"/>
<path d="M96.50 289.20L98.80 291.50L96.50 293.80L94.20 291.50Z" fill="#0e5284"/>
<path d="M83.70 291.80L86.00 294.10L83.70 296.40L81.40 294.10Z" fill="#0e5284"/>
<path d="M96.50 294.80L98.80 297.10L96.50 299.40L94.20 297.10Z" fill="#0e5284"/>
<path d="M90.10 299.50L92.40 301.80L90.10 304.10L87.80 301.80Z" fill="#0e5284"/>
<path d="M90.10 317.70L92.40 320.00L90.10 322.30L87.80 320.00Z" fill="#0e5284"/>
<circle cx="162.50" cy="255.70" r="1.72" fill="#c8202f"/>
<circle cx="162.50" cy="260.10" r="1.72" fill="#c8202f"/>
<circle cx="169.20" cy="270.20" r="1.72" fill="#c8202f"/>
<circle cx="162.50" cy="272.90" r="1.72" fill="#c8202f"/>
<circle cx="169.20" cy="277.60" r="1.72" fill="#c8202f"/>
<circle cx="162.50" cy="278.70" r="1.72" fill="#c8202f"/>
<circle cx="156.00" cy="287.40" r="1.72" fill="#c8202f"/>
<circle cx="162.50" cy="285.30" r="1.72" fill="#c8202f"/>
<circle cx="169.20" cy="289.00" r="1.72" fill="#c8202f"/>
<circle cx="162.50" cy="291.00" r="1.72" fill="#c8202f"/>
<circle cx="162.50" cy="307.60" r="1.72" fill="#c8202f"/>
<path d="M184.40 298.20L186.70 300.50L184.40 302.80L182.10 300.50Z" fill="#0e5284"/>
<path d="M184.40 302.20L186.70 304.50L184.40 306.80L182.10 304.50Z" fill="#0e5284"/>
<path d="M187.80 302.20L190.10 304.50L187.80 306.80L185.50 304.50Z" fill="#0e5284"/>
<path d="M191.40 300.90L193.70 303.20L191.40 305.50L189.10 303.20Z" fill="#0e5284"/>
<path d="M195.10 300.90L197.40 303.20L195.10 305.50L192.80 303.20Z" fill="#0e5284"/>
<path d="M198.60 300.90L200.90 303.20L198.60 305.50L196.30 303.20Z" fill="#0e5284"/>
<path d="M202.20 302.20L204.50 304.50L202.20 306.80L199.90 304.50Z" fill="#0e5284"/>
<path d="M188.10 306.90L190.40 309.20L188.10 311.50L185.80 309.20Z" fill="#0e5284"/>
<path d="M191.40 308.30L193.70 310.60L191.40 312.90L189.10 310.60Z" fill="#0e5284"/>
<path d="M195.10 305.80L197.40 308.10L195.10 310.40L192.80 308.10Z" fill="#0e5284"/>
<path d="M198.60 305.30L200.90 307.60L198.60 309.90L196.30 307.60Z" fill="#0e5284"/>
<path d="M195.10 309.90L197.40 312.20L195.10 314.50L192.80 312.20Z" fill="#0e5284"/>
<path d="M191.40 319.30L193.70 321.60L191.40 323.90L189.10 321.60Z" fill="#0e5284"/>
<path d="M195.10 322.40L197.40 324.70L195.10 327.00L192.80 324.70Z" fill="#0e5284"/>
<path d="M193.20 329.40L195.50 331.70L193.20 334.00L190.90 331.70Z" fill="#0e5284"/>
<circle cx="252.60" cy="262.10" r="1.65" fill="#c8202f"/>
<circle cx="253.87" cy="262.10" r="1.65" fill="#c8202f"/>
<circle cx="255.14" cy="262.10" r="1.65" fill="#c8202f"/>
<circle cx="256.41" cy="262.10" r="1.65" fill="#c8202f"/>
<circle cx="257.68" cy="262.10" r="1.65" fill="#c8202f"/>
<circle cx="258.95" cy="262.10" r="1.65" fill="#c8202f"/>
<circle cx="260.22" cy="262.10" r="1.65" fill="#c8202f"/>
<circle cx="261.49" cy="262.10" r="1.65" fill="#c8202f"/>
<circle cx="262.76" cy="262.10" r="1.65" fill="#c8202f"/>
<circle cx="264.03" cy="262.10" r="1.65" fill="#c8202f"/>
<circle cx="265.30" cy="262.10" r="1.65" fill="#c8202f"/>
<circle cx="266.57" cy="262.10" r="1.65" fill="#c8202f"/>
<circle cx="267.84" cy="262.10" r="1.65" fill="#c8202f"/>
<circle cx="269.11" cy="262.10" r="1.65" fill="#c8202f"/>
<circle cx="270.38" cy="262.10" r="1.65" fill="#c8202f"/>
<circle cx="261.40" cy="277.20" r="1.72" fill="#c8202f"/>
<path d="M283.40 267.20L285.70 269.50L283.40 271.80L281.10 269.50Z" fill="#0e5284"/>
<path d="M286.70 267.20L289.00 269.50L286.70 271.80L284.40 269.50Z" fill="#0e5284"/>
<path d="M290.00 267.20L292.30 269.50L290.00 271.80L287.70 269.50Z" fill="#0e5284"/>
<path d="M293.50 267.20L295.80 269.50L293.50 271.80L291.20 269.50Z" fill="#0e5284"/>
<path d="M296.80 267.20L299.10 269.50L296.80 271.80L294.50 269.50Z" fill="#0e5284"/>
<path d="M300.20 267.20L302.50 269.50L300.20 271.80L297.90 269.50Z" fill="#0e5284"/>
<path d="M290.80 269.90L293.10 272.20L290.80 274.50L288.50 272.20Z" fill="#0e5284"/>
<path d="M288.10 274.90L290.40 277.20L288.10 279.50L285.80 277.20Z" fill="#0e5284"/>
<path d="M292.10 274.90L294.40 277.20L292.10 279.50L289.80 277.20Z" fill="#0e5284"/>
<path d="M295.90 274.90L298.20 277.20L295.90 279.50L293.60 277.20Z" fill="#0e5284"/>
<path d="M288.10 282.70L290.40 285.00L288.10 287.30L285.80 285.00Z" fill="#0e5284"/>
<path d="M292.10 282.70L294.40 285.00L292.10 287.30L289.80 285.00Z" fill="#0e5284"/>
<path d="M295.90 282.70L298.20 285.00L295.90 287.30L293.60 285.00Z" fill="#0e5284"/>
<path d="M292.10 290.80L294.40 293.10L292.10 295.40L289.80 293.10Z" fill="#0e5284"/>
<path d="M292.10 298.20L294.40 300.50L292.10 302.80L289.80 300.50Z" fill="#0e5284"/>
<path d="M292.10 306.00L294.40 308.30L292.10 310.60L289.80 308.30Z" fill="#0e5284"/>
<circle cx="351.60" cy="262.60" r="1.65" fill="#c8202f"/>
<circle cx="352.87" cy="262.60" r="1.65" fill="#c8202f"/>
<circle cx="354.14" cy="262.60" r="1.65" fill="#c8202f"/>
<circle cx="355.41" cy="262.60" r="1.65" fill="#c8202f"/>
<circle cx="356.68" cy="262.60" r="1.65" fill="#c8202f"/>
<circle cx="357.95" cy="262.60" r="1.65" fill="#c8202f"/>
<circle cx="359.22" cy="262.60" r="1.65" fill="#c8202f"/>
<circle cx="360.49" cy="262.60" r="1.65" fill="#c8202f"/>
<circle cx="361.76" cy="262.60" r="1.65" fill="#c8202f"/>
<circle cx="363.03" cy="262.60" r="1.65" fill="#c8202f"/>
<circle cx="364.30" cy="262.60" r="1.65" fill="#c8202f"/>
<circle cx="365.57" cy="262.60" r="1.65" fill="#c8202f"/>
<circle cx="366.84" cy="262.60" r="1.65" fill="#c8202f"/>
<circle cx="368.11" cy="262.60" r="1.65" fill="#c8202f"/>
<circle cx="369.38" cy="262.60" r="1.65" fill="#c8202f"/>
<circle cx="360.10" cy="269.50" r="1.72" fill="#c8202f"/>
<circle cx="360.10" cy="277.60" r="1.72" fill="#c8202f"/>
<path d="M382.00 260.10L384.30 262.40L382.00 264.70L379.70 262.40Z" fill="#0e5284"/>
<path d="M386.50 260.10L388.80 262.40L386.50 264.70L384.20 262.40Z" fill="#0e5284"/>
<path d="M390.80 260.10L393.10 262.40L390.80 264.70L388.50 262.40Z" fill="#0e5284"/>
<path d="M395.10 260.10L397.40 262.40L395.10 264.70L392.80 262.40Z" fill="#0e5284"/>
<path d="M399.50 260.10L401.80 262.40L399.50 264.70L397.20 262.40Z" fill="#0e5284"/>
<path d="M388.70 275.30L391.00 277.60L388.70 279.90L386.40 277.60Z" fill="#0e5284"/>
<path d="M392.80 275.30L395.10 277.60L392.80 279.90L390.50 277.60Z" fill="#0e5284"/>
<path d="M382.00 280.30L384.30 282.60L382.00 284.90L379.70 282.60Z" fill="#0e5284"/>
<path d="M390.80 280.30L393.10 282.60L390.80 284.90L388.50 282.60Z" fill="#0e5284"/>
<path d="M386.70 283.00L389.00 285.30L386.70 287.60L384.40 285.30Z" fill="#0e5284"/>
<path d="M395.10 283.00L397.40 285.30L395.10 287.60L392.80 285.30Z" fill="#0e5284"/>
<path d="M399.50 283.00L401.80 285.30L399.50 287.60L397.20 285.30Z" fill="#0e5284"/>
<path d="M386.50 290.50L388.80 292.80L386.50 295.10L384.20 292.80Z" fill="#0e5284"/>
<path d="M390.80 290.50L393.10 292.80L390.80 295.10L388.50 292.80Z" fill="#0e5284"/>
<path d="M395.10 290.50L397.40 292.80L395.10 295.10L392.80 292.80Z" fill="#0e5284"/>
<circle cx="462.60" cy="259.70" r="1.72" fill="#c8202f"/>
<circle cx="459.50" cy="266.30" r="1.72" fill="#c8202f"/>
<circle cx="466.00" cy="266.30" r="1.72" fill="#c8202f"/>
<circle cx="466.00" cy="289.00" r="1.72" fill="#c8202f"/>
<circle cx="459.50" cy="292.20" r="1.72" fill="#c8202f"/>
<circle cx="459.50" cy="304.20" r="1.72" fill="#c8202f"/>
<circle cx="466.00" cy="303.20" r="1.72" fill="#c8202f"/>
<circle cx="459.50" cy="308.90" r="1.72" fill="#c8202f"/>
<circle cx="466.00" cy="308.50" r="1.72" fill="#c8202f"/>
<circle cx="462.60" cy="316.70" r="1.72" fill="#c8202f"/>
<circle cx="462.60" cy="326.40" r="1.72" fill="#c8202f"/>
<path d="M493.30 253.10L495.60 255.40L493.30 257.70L491.00 255.40Z" fill="#0e5284"/>
<path d="M493.30 257.60L495.60 259.90L493.30 262.20L491.00 259.90Z" fill="#0e5284"/>
<path d="M493.30 269.30L495.60 271.60L493.30 273.90L491.00 271.60Z" fill="#0e5284"/>
<path d="M493.30 274.40L495.60 276.70L493.30 279.00L491.00 276.70Z" fill="#0e5284"/>
<path d="M493.30 288.60L495.60 290.90L493.30 293.20L491.00 290.90Z" fill="#0e5284"/>
<path d="M493.30 293.60L495.60 295.90L493.30 298.20L491.00 295.90Z" fill="#0e5284"/>
<path d="M493.30 308.50L495.60 310.80L493.30 313.10L491.00 310.80Z" fill="#0e5284"/>
<path d="M490.20 318.00L492.50 320.30L490.20 322.60L487.90 320.30Z" fill="#0e5284"/>
<path d="M497.00 316.30L499.30 318.60L497.00 320.90L494.70 318.60Z" fill="#0e5284"/>
<path d="M497.00 321.10L499.30 323.40L497.00 325.70L494.70 323.40Z" fill="#0e5284"/>
<path d="M490.20 328.60L492.50 330.90L490.20 333.20L487.90 330.90Z" fill="#0e5284"/>
<path d="M497.00 331.90L499.30 334.20L497.00 336.50L494.70 334.20Z" fill="#0e5284"/>
<path d="M493.30 341.70L495.60 344.00L493.30 346.30L491.00 344.00Z" fill="#0e5284"/>
<rect x="0.5" y="0.5" width="519" height="703" fill="none" stroke="#000" stroke-width="1.2"/>
</svg></body></html>
